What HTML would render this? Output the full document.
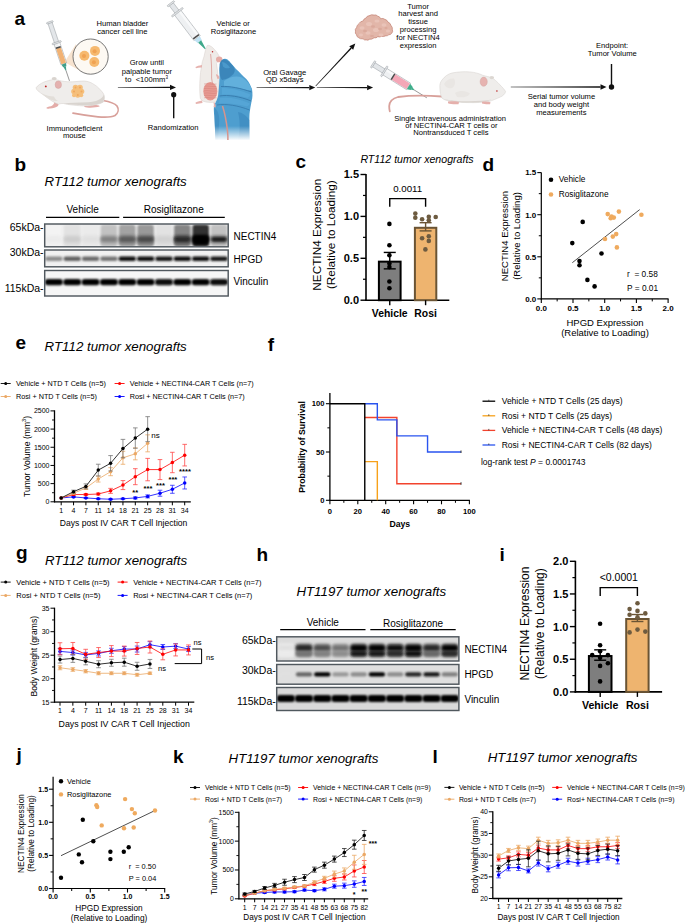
<!DOCTYPE html>
<html><head><meta charset="utf-8"><title>Figure</title>
<style>
html,body{margin:0;padding:0;background:#fff;}
body{width:685px;height:924px;overflow:hidden;}
svg{display:block;font-family:"Liberation Sans", sans-serif;}
</style></head>
<body>
<svg width="685" height="924" viewBox="0 0 685 924" font-family='"Liberation Sans", sans-serif'>
<rect width="685" height="924" fill="#fff"/>
<defs><filter id="bl1" x="-50%" y="-100%" width="200%" height="300%"><feGaussianBlur stdDeviation="0.9"/></filter><filter id="bl2" x="-50%" y="-100%" width="200%" height="300%"><feGaussianBlur stdDeviation="1.4"/></filter><linearGradient id="fadeB" x1="0" x2="0" y1="0" y2="1"><stop offset="0" stop-color="#fff" stop-opacity="0"/><stop offset="1" stop-color="#fff" stop-opacity="1"/></linearGradient></defs>
<text x="14.50" y="25.00" font-size="19" font-weight="bold">a</text>
<text x="122.40" y="26.00" font-size="7.6" text-anchor="middle">Human bladder</text>
<text x="122.40" y="33.70" font-size="7.6" text-anchor="middle">cancer cell line</text>
<text x="146.80" y="65.40" font-size="7.6" text-anchor="middle">Grow until</text>
<text x="146.90" y="73.70" font-size="7.6" text-anchor="middle">palpable tumor</text>
<text x="146.50" y="81.50" font-size="7.6" text-anchor="middle">to&#160; &lt;100mm<tspan font-size="4.5" dy="-3">3</tspan></text>
<text x="74.40" y="131.00" font-size="7.6" text-anchor="middle">Immunodeficient</text>
<text x="74.40" y="138.40" font-size="7.6" text-anchor="middle">mouse</text>
<text x="173.20" y="130.40" font-size="7.6" text-anchor="middle">Randomization</text>
<text x="233.20" y="25.70" font-size="7.6" text-anchor="middle">Vehicle or</text>
<text x="233.50" y="33.70" font-size="7.6" text-anchor="middle">Rosiglitazone</text>
<text x="284.70" y="74.50" font-size="7.6" text-anchor="middle">Oral Gavage</text>
<text x="284.70" y="82.20" font-size="7.6" text-anchor="middle">QD x5days</text>
<text x="418.10" y="8.50" font-size="7.6" text-anchor="middle">Tumor</text>
<text x="418.10" y="16.40" font-size="7.6" text-anchor="middle">harvest and</text>
<text x="418.10" y="24.30" font-size="7.6" text-anchor="middle">tissue</text>
<text x="418.10" y="32.20" font-size="7.6" text-anchor="middle">processing</text>
<text x="418.10" y="40.10" font-size="7.6" text-anchor="middle">for NECTIN4</text>
<text x="418.10" y="48.00" font-size="7.6" text-anchor="middle">expression</text>
<text x="450.10" y="121.20" font-size="7.6" text-anchor="middle">Single intravenous administration</text>
<text x="451.40" y="128.20" font-size="7.6" text-anchor="middle">of NECTIN4-CAR T cells or</text>
<text x="450.90" y="135.40" font-size="7.6" text-anchor="middle">Nontransduced T cells</text>
<text x="612.10" y="48.10" font-size="7.6" text-anchor="middle">Endpoint:</text>
<text x="612.30" y="55.60" font-size="7.6" text-anchor="middle">Tumor Volume</text>
<text x="561.40" y="99.10" font-size="7.6" text-anchor="middle">Serial tumor volume</text>
<text x="561.40" y="107.20" font-size="7.6" text-anchor="middle">and body weight</text>
<text x="561.40" y="114.80" font-size="7.6" text-anchor="middle">measurements</text>
<polygon points="117.90,87.65 170.00,88.10 170.00,86.70 117.90,87.15" fill="#111"/>
<polygon points="176.00,87.40 170.00,90.10 170.00,84.70" fill="#111"/>
<polygon points="256.60,87.85 309.30,88.30 309.30,86.90 256.60,87.35" fill="#111"/>
<polygon points="315.30,87.60 309.30,90.30 309.30,84.90" fill="#111"/>
<polygon points="316.80,87.85 367.10,88.30 367.10,86.90 316.80,87.35" fill="#111"/>
<polygon points="373.10,87.60 367.10,90.30 367.10,84.90" fill="#111"/>
<polygon points="315.88,86.17 351.72,48.46 350.69,47.51 315.52,85.83" fill="#111"/>
<polygon points="355.30,43.60 353.18,49.83 349.23,46.14" fill="#111"/>
<polygon points="510.80,87.25 600.50,87.70 600.50,86.30 510.80,86.75" fill="#111"/>
<polygon points="606.50,87.00 600.50,89.70 600.50,84.30" fill="#111"/>
<line x1="173.70" y1="94.70" x2="173.70" y2="118.30" stroke="#111" stroke-width="1.4"/>
<circle cx="173.70" cy="94.70" r="2.6" fill="#111"/>
<line x1="611.50" y1="64.00" x2="611.50" y2="87.00" stroke="#111" stroke-width="1.4"/>
<circle cx="611.50" cy="87.00" r="2.7" fill="#111"/>
<g>
<polygon points="64.5,62 76,44 82,72" fill="#f7e3cf"/>
<circle cx="90.6" cy="56.6" r="17.6" fill="#fdf9f3" stroke="#555" stroke-width="0.8"/>
<circle cx="84.4" cy="55.8" r="5.0" fill="#f6b96f"/>
<circle cx="84.0" cy="56.099999999999994" r="2.0" fill="#f0a252"/>
<circle cx="95.0" cy="50.9" r="5.0" fill="#f6b96f"/>
<circle cx="94.6" cy="51.199999999999996" r="2.0" fill="#f0a252"/>
<circle cx="94.3" cy="62.0" r="5.0" fill="#f6b96f"/>
<circle cx="93.89999999999999" cy="62.3" r="2.0" fill="#f0a252"/>
</g>
<g transform="translate(49.80,22.20) rotate(71.45)">
<rect x="0.5" y="-2.20" width="21.67" height="4.40" fill="#e3e6e9" stroke="#8f959a" stroke-width="0.45"/>
<rect x="-0.6" y="-3.40" width="1.6" height="6.80" rx="0.7" fill="#e6e8ea" stroke="#8f959a" stroke-width="0.45"/>
<rect x="21.67" y="-3.00" width="22.29" height="6.00" fill="#eef0f2" stroke="#8f959a" stroke-width="0.45"/>
<rect x="22.17" y="-2.40" width="21.29" height="1.68" fill="#f8f9fa"/>
<rect x="27.24" y="-2.50" width="16.32" height="5.00" fill="#f1b274"/>
<rect x="25.94" y="-2.60" width="1.5" height="5.20" fill="#4a4a4a"/>
<rect x="20.87" y="-4.75" width="1.6" height="9.50" rx="0.7" fill="#e6e8ea" stroke="#8f959a" stroke-width="0.45"/>
<polygon points="43.96,-2.40 47.06,-1.70 47.06,1.70 43.96,2.40" fill="#3f9f8a"/>
<polygon points="46.76,-1.27 50.77,-0.45 50.77,0.45 46.76,1.27" fill="#3f9f8a"/>
<line x1="50.77" y1="0" x2="61.92" y2="0" stroke="#555" stroke-width="0.55"/>
</g>
<path d="M103,100.5 C109,101.5 114.5,103 117,106 C119,109 118.5,113 115,115.5 C111,117.5 105,117.4 98,116.8 C90,116 82,114.8 73,113.1" stroke="#d8a09a" stroke-width="1.7" fill="none" stroke-linecap="round"/>
<path d="M57,101 C58.5,103 59,104.5 58,106 C56,107.5 53,108.2 50,108.6 C48,108.8 46.5,108.6 46.3,108 C46.5,107.2 48.5,106.8 51,106.3 C53,105.5 54,104 54.5,102 Z" fill="#e4aca8"/>
<path d="M88,103 C90,104.5 93,105 96,105 C98.5,105.2 100,105.8 99.5,106.6 C97,107.5 93,107.8 89,107.7 C86,107.6 84.5,107.2 84.2,106.5 C84.5,105.5 86,104.5 88,103 Z" fill="#e4aca8"/>
<path d="M36.1,87.8 C37.5,85.5 40.9,83.4 44,82 C47,80.8 50,80.2 53,79.5 C55.5,79 58.5,80.5 61.8,81 C66,81.8 70,81.9 73,81.8 C77,81.6 81,80.9 84.2,81 C88,81.3 90.5,82.3 92.3,83.4 C96,85.5 98.5,87.5 100.3,89.8 C102.5,92 104,94 104.3,96.3 C104.6,98.5 104.3,100.5 103.5,101.9 C101.5,103.2 99.5,104 97.1,104.3 C94,105.2 90.5,105.9 87.4,105.9 C82,106 77,105.6 73,105.1 C69,104.7 66,104.2 63.4,103.5 C61,103.3 60,103.9 58.5,104.3 C56,103.5 54,102.4 52.1,101.1 C49,99.2 46.5,97.3 44.1,95.4 C41.5,93.6 39.5,92.2 37.7,90.6 C36.8,89.8 36.2,88.8 36.1,87.8 Z" fill="#efedeb" stroke="#d2cdc8" stroke-width="0.5"/>
<path d="M63,103.4 C70,104.4 80,105.2 90,105.3 C96,104.8 101,103.6 103.3,101.8 C104.3,99.5 104.5,97 104,94.5 C102,99.5 96,101.8 88,102.3 C78,102.8 70,102.8 63,103.4 Z" fill="#d9d4cf"/>
<path d="M42,93.5 C46,95.5 50,96.3 54,96.5 C55,98.5 56,100 58,101 C54,101.6 50,99.5 44.1,95.4 Z" fill="#e2ded9"/>
<ellipse cx="54.2" cy="78.6" rx="2.5" ry="1.6" fill="#d9d4cf"/>
<ellipse cx="58.3" cy="84.7" rx="3.2" ry="3.8" fill="#e4b1af" stroke="#cc9a98" stroke-width="0.4"/>
<circle cx="45.80" cy="86.40" r="0.95" fill="#b22"/>
<circle cx="75.50" cy="87.50" r="2.8" fill="#f5bf7b"/>
<circle cx="80.00" cy="87.50" r="2.8" fill="#f5bf7b"/>
<circle cx="74.00" cy="91.50" r="2.8" fill="#f5bf7b"/>
<circle cx="81.50" cy="91.50" r="2.8" fill="#f5bf7b"/>
<circle cx="77.80" cy="95.00" r="2.8" fill="#f5bf7b"/>
<circle cx="77.80" cy="90.80" r="2.6" fill="#f5bf7b"/>
<circle cx="74.00" cy="95.20" r="2.0" fill="#f5bf7b"/>
<circle cx="81.20" cy="95.20" r="2.0" fill="#f5bf7b"/>
<circle cx="75.50" cy="87.50" r="1.0" fill="#efa75d"/>
<circle cx="80.00" cy="87.50" r="1.0" fill="#efa75d"/>
<circle cx="74.00" cy="91.50" r="1.0" fill="#efa75d"/>
<circle cx="81.50" cy="91.50" r="1.0" fill="#efa75d"/>
<circle cx="77.80" cy="95.00" r="1.0" fill="#efa75d"/>
<g transform="translate(170.80,3.60) rotate(52.69)">
<rect x="0.5" y="-2.50" width="10.85" height="5.00" fill="#e3e6e9" stroke="#8f959a" stroke-width="0.45"/>
<rect x="-0.6" y="-4.25" width="1.6" height="8.50" rx="0.7" fill="#e6e8ea" stroke="#8f959a" stroke-width="0.45"/>
<rect x="10.85" y="-4.00" width="32.54" height="8.00" fill="#eef0f2" stroke="#8f959a" stroke-width="0.45"/>
<rect x="11.35" y="-3.40" width="31.54" height="2.24" fill="#f8f9fa"/>
<rect x="40.94" y="-3.60" width="1.5" height="7.20" fill="#4a4a4a"/>
<rect x="10.05" y="-7.00" width="1.6" height="14.00" rx="0.7" fill="#e6e8ea" stroke="#8f959a" stroke-width="0.45"/>
<polygon points="43.38,-3.40 47.95,-2.50 47.95,2.50 43.38,3.40" fill="#bfe2f3"/>
<polygon points="47.65,-1.88 57.08,-0.45 57.08,0.45 47.65,1.88" fill="#3fa88a"/>
</g>
<path d="M207.3,45.4 C209,45 211,46 213,48 C215,50 217,52 218.5,55 C220,57 219,61 216.5,63.3 C217.5,70 218.3,78 218.6,86 C219,93 219.5,98 218.7,100.6 C216,102.5 212,102.6 208,102.2 C205,102 202,101.5 200.3,98.4 C199.6,92 199.5,85 200.1,78 C200.6,71 201.5,63 204.1,56.2 C205,52 205.8,48 207.3,45.4 Z" fill="#efebe8" stroke="#d6cfca" stroke-width="0.5"/>
<ellipse cx="210.3" cy="91.2" rx="7" ry="9.2" fill="#e79a92"/>
<path d="M204,84.0 C208,83.0 212,85.0 216.5,84.0" stroke="#d27c74" stroke-width="0.45" fill="none"/>
<path d="M204,86.3 C208,85.3 212,87.3 216.5,86.3" stroke="#d27c74" stroke-width="0.45" fill="none"/>
<path d="M204,88.6 C208,87.6 212,89.6 216.5,88.6" stroke="#d27c74" stroke-width="0.45" fill="none"/>
<path d="M204,90.9 C208,89.9 212,91.9 216.5,90.9" stroke="#d27c74" stroke-width="0.45" fill="none"/>
<path d="M204,93.2 C208,92.2 212,94.2 216.5,93.2" stroke="#d27c74" stroke-width="0.45" fill="none"/>
<path d="M204,95.5 C208,94.5 212,96.5 216.5,95.5" stroke="#d27c74" stroke-width="0.45" fill="none"/>
<path d="M204,97.8 C208,96.8 212,98.8 216.5,97.8" stroke="#d27c74" stroke-width="0.45" fill="none"/>
<path d="M210.6,54 C211.5,62 211.8,70 211.6,78 L212.5,84" stroke="#d98e88" stroke-width="0.7" fill="none"/>
<ellipse cx="219.2" cy="59.4" rx="3.2" ry="2.8" fill="#e6aca6"/>
<circle cx="212.50" cy="51.80" r="0.75" fill="#b22"/>
<path d="M202,65 C199,65.5 197,66 195.4,67.1 L196,68.3 C198,67.6 200,67.5 202,67.6 Z" fill="#e6b2ae"/>
<path d="M202,100.5 C199,101.2 197,101.8 195.4,102.8 L196,104 C198,103.5 200,103.2 202.5,103 Z" fill="#e6b2ae"/>
<path d="M222.5,59.5 C224,58.6 226,58.7 227.5,59.5 C230,62 233.3,66 236,69 C239.8,72.5 243,76 246.3,79 C249,82 250.6,85.5 252,89 C252.8,94 252.5,98 251.7,100.6 C251,105 250,109.3 249.5,114 C249.2,120 249.3,128 249.5,140 L215.4,140 C215.2,132 214.8,124 214.3,115.8 C213.8,110 213.6,107 214.5,104.5 C216,102 217.5,99 218.2,95 C219,88 219.5,80 219.5,72 C219.3,67 220.5,62 222.5,59.5 Z" fill="#4e9ecf"/>
<path d="M219.6,64 C220.5,61 222,59.6 224,59.3 C227,59.5 230,62.5 233,66 C235,68.5 235.5,71 233.5,74 C230.5,77.5 226,79.5 222,80 C220.3,78 219.5,74 219.5,70 Z" fill="#3b86ba"/>
<path d="M222,62 C225,62 228,64.5 230,67.5 C228,69 225,68.5 223,66.5 Z" fill="#4f9ed0" opacity="0.8"/>
<path d="M224,81 C229,77 236,75 242,77.5 C247,80.5 250.5,85 251.8,90 C248,91 243,89.5 238,88 C233,87 228,86.5 224,86 Z" fill="#62b0dc"/>
<path d="M222,88 C230,88 240,90 250.5,94.5 C250,97 248,98 246,97.5 C238,95 230,94 222,94.5 Z" fill="#58a8d8" opacity="0.8"/>
<path d="M220,98 C230,97 240,99 249.8,103.5 C249,106 247.5,106.5 245,106 C236,104 228,103 219,103.5 Z" fill="#58a8d8" opacity="0.7"/>
<path d="M221,86.5 C230,86 240,88 251.5,92" stroke="#3579ab" stroke-width="0.9" fill="none"/>
<path d="M219.5,96 C228,94.5 240,96.5 251.2,101" stroke="#3579ab" stroke-width="0.9" fill="none"/>
<path d="M217,105 C226,103.5 238,105.5 249.6,110" stroke="#3579ab" stroke-width="0.8" fill="none"/>
<path d="M238,112 C243,113 247,116 249.3,120 L249.5,140 L238,140 C240,132 240.5,122 238,112 Z" fill="#3f8bbf" opacity="0.8"/>
<path d="M214.5,108 C218,110 220,116 219,124 L218,140 L215.4,140 C215,130 214.5,118 214.5,108 Z" fill="#3f8bbf" opacity="0.7"/>
<rect x="212" y="126" width="42" height="14.5" fill="url(#fadeB)"/>
<path d="M216.5,74 C218,75 219.5,76 219.5,78.5 L217.5,79 C217,77.5 216.5,76 216,75 Z" fill="#e6b2ae"/>
<path d="M214,102 C215.5,103.5 216,105 215.5,107.5 L213.5,107 C214,105.5 214,104 213.5,103 Z" fill="#e6b2ae"/>
<path d="M222.5,106 C224.5,112 226.5,122 227.5,131 C227.9,135 228,138 227.9,140" stroke="#d8948c" stroke-width="1.5" fill="none"/>
<path d="M355.47,31.17 Q354.72,29.39 356.57,27.52 Q356.76,25.06 359.49,23.14 Q360.17,21.43 363.14,20.95 Q363.68,18.57 366.06,18.03 Q366.91,15.79 368.98,15.84 Q371.31,14.19 374.09,15.11 Q376.12,14.37 377.74,16.20 Q379.76,16.31 380.66,18.76 Q383.35,17.97 384.31,19.12 Q387.22,19.87 387.96,22.04 Q390.65,23.29 390.88,25.33 Q392.90,27.43 392.34,29.71 Q393.26,31.73 391.61,33.36 Q391.38,34.50 388.69,34.82 Q388.02,35.96 385.04,35.91 Q384.23,36.90 381.39,36.28 Q380.34,37.50 377.74,36.64 Q376.23,38.45 374.09,37.74 Q371.65,39.74 369.71,39.20 Q367.66,40.72 366.79,39.93 Q364.14,40.38 363.14,38.83 Q359.91,39.06 358.76,37.74 Q356.49,36.83 356.57,34.82 Q354.76,33.30 355.47,31.17 Z" fill="#e2b6a9" stroke="#c6897b" stroke-width="0.8"/>
<ellipse cx="362" cy="28" rx="2.6" ry="1.8" fill="#e9c3b8"/>
<ellipse cx="369" cy="24" rx="3" ry="2" fill="#e9c3b8"/>
<ellipse cx="377" cy="21" rx="2.6" ry="1.6" fill="#e9c3b8"/>
<ellipse cx="384" cy="25" rx="2.5" ry="1.8" fill="#e9c3b8"/>
<ellipse cx="388" cy="31" rx="2.2" ry="1.6" fill="#e9c3b8"/>
<ellipse cx="376" cy="30" rx="3" ry="2" fill="#e9c3b8"/>
<ellipse cx="368" cy="33" rx="2.6" ry="1.8" fill="#e9c3b8"/>
<ellipse cx="381" cy="35" rx="2.4" ry="1.4" fill="#e9c3b8"/>
<ellipse cx="361" cy="35" rx="2" ry="1.4" fill="#e9c3b8"/>
<ellipse cx="365" cy="31" rx="2" ry="1.2" fill="#d6a093" opacity="0.6"/>
<ellipse cx="373" cy="26.5" rx="2" ry="1.2" fill="#d6a093" opacity="0.6"/>
<ellipse cx="380" cy="29" rx="2" ry="1.2" fill="#d6a093" opacity="0.6"/>
<ellipse cx="372" cy="36" rx="2" ry="1.1" fill="#d6a093" opacity="0.6"/>
<ellipse cx="386" cy="28" rx="1.6" ry="1.1" fill="#d6a093" opacity="0.6"/>
<g transform="translate(373.00,64.30) rotate(31.91)">
<rect x="0.5" y="-2.40" width="13.31" height="4.80" fill="#e3e6e9" stroke="#8f959a" stroke-width="0.45"/>
<rect x="-0.6" y="-4.00" width="1.6" height="8.00" rx="0.7" fill="#e6e8ea" stroke="#8f959a" stroke-width="0.45"/>
<rect x="13.31" y="-3.80" width="28.52" height="7.60" fill="#eef0f2" stroke="#8f959a" stroke-width="0.45"/>
<rect x="13.81" y="-3.20" width="27.52" height="2.13" fill="#f8f9fa"/>
<rect x="24.08" y="-3.30" width="17.35" height="6.60" fill="#f3a7b7"/>
<rect x="22.78" y="-3.40" width="1.5" height="6.80" fill="#4a4a4a"/>
<rect x="12.51" y="-6.00" width="1.6" height="12.00" rx="0.7" fill="#e6e8ea" stroke="#8f959a" stroke-width="0.45"/>
<polygon points="41.83,-3.20 45.63,-1.80 45.63,1.80 41.83,3.20" fill="#3fae8b"/>
<polygon points="45.33,-1.35 48.17,-0.45 48.17,0.45 45.33,1.35" fill="#3fae8b"/>
<line x1="48.17" y1="0" x2="63.38" y2="0" stroke="#555" stroke-width="0.55"/>
</g>
<path d="M442,96.5 C430,95.5 412,95 398,97 C392,98.5 389.5,102 389.2,106 C389.2,108 389.4,110 389.8,111.3" stroke="#d8a09a" stroke-width="1.8" fill="none" stroke-linecap="round"/>
<path d="M439.9,88 C439.5,84 440.5,82 442,80 C445,76 448,74 452,73 C458,71.8 464,71.5 469.5,71.9 C475,72.3 479,73.5 482.6,75.2 C486,76.3 489,76.8 491.4,77.4 C494,79 497,81.5 500.1,85 C502.5,87.5 504.5,89.5 505.6,91.6 C505,94 503,96 500.1,97.1 C496,99 492,100.5 489.2,101.5 C483,102.4 476,102.8 469.5,102.6 C463,102.5 457,102.2 452,101.5 C447,100.8 444,99.8 442.1,98.2 C440.6,95.5 440,92 439.9,88 Z" fill="#efedeb" stroke="#d3cecb" stroke-width="0.5"/>
<path d="M442.1,98.2 C447,100 455,101 465,101.2 C475,101.4 485,100.8 492,99.6 C488,101.2 482,102.5 470,102.6 C460,102.5 450,101.6 442.1,98.2 Z" fill="#dad5d0"/>
<path d="M444,84 C446,80 450,78 454,78.5 C456,82 455,86 452,88 C449,89 446,88 444,84 Z" fill="#e9e6e3"/>
<path d="M455,93 C460,90 466,90.5 470,93.5 C468,97 462,98 457,97 Z" fill="#e9e6e3"/>
<ellipse cx="491.8" cy="77.6" rx="2.3" ry="1.6" fill="#dcd7d2"/>
<ellipse cx="483.7" cy="81.7" rx="3.6" ry="4.6" fill="#e6b3b0" stroke="#cf9f9c" stroke-width="0.4"/>
<circle cx="496.90" cy="91.00" r="0.8" fill="#b22"/>
<path d="M448,101.5 C452,101 457,101 459,102 L458.5,104.2 C454,104.5 450,104 448,103.2 Z" fill="#e5b0ac"/>
<path d="M482,101.8 C485,101.5 488,101.5 490.5,102.3 L490,104.3 C487,104.5 484,104.3 482,103.6 Z" fill="#e5b0ac"/>
<text x="14.50" y="170.70" font-size="19" font-weight="bold">b</text>
<text x="44.60" y="185.90" font-size="13.3" font-style="italic">RT112 tumor xenografts</text>
<text x="82.60" y="213.20" font-size="10" text-anchor="middle">Vehicle</text>
<text x="173.70" y="213.40" font-size="10" text-anchor="middle">Rosiglitazone</text>
<line x1="46.00" y1="217.30" x2="119.30" y2="217.30" stroke="#000" stroke-width="1.2"/>
<line x1="123.10" y1="217.30" x2="224.80" y2="217.30" stroke="#000" stroke-width="1.2"/>
<text x="43.60" y="230.90" font-size="10.5" text-anchor="end">65kDa-</text>
<text x="43.60" y="255.80" font-size="10.5" text-anchor="end">30kDa-</text>
<text x="43.60" y="292.00" font-size="10.5" text-anchor="end">115kDa-</text>
<text x="233.50" y="240.30" font-size="10">NECTIN4</text>
<text x="233.50" y="262.50" font-size="10">HPGD</text>
<text x="233.50" y="285.00" font-size="10">Vinculin</text>
<rect x="44.70" y="224.00" width="183.50" height="22.80" fill="#eeeeee"/>
<clipPath id="clip44_0"><rect x="44.70" y="224.00" width="183.50" height="22.80"/></clipPath>
<g clip-path="url(#clip44_0)">
<rect x="45.62" y="224.50" width="16.52" height="22.00" rx="3.00" fill="rgb(243,243,243)" filter="url(#bl1)"/>
<rect x="63.97" y="224.50" width="16.52" height="22.00" rx="3.00" fill="rgb(226,226,226)" filter="url(#bl1)"/>
<rect x="82.32" y="224.50" width="16.52" height="22.00" rx="3.00" fill="rgb(235,235,235)" filter="url(#bl1)"/>
<rect x="100.67" y="224.50" width="16.52" height="22.00" rx="3.00" fill="rgb(194,194,194)" filter="url(#bl1)"/>
<rect x="119.02" y="224.50" width="16.52" height="22.00" rx="3.00" fill="rgb(163,163,163)" filter="url(#bl1)"/>
<rect x="137.37" y="224.50" width="16.52" height="22.00" rx="3.00" fill="rgb(153,153,153)" filter="url(#bl1)"/>
<rect x="155.72" y="224.50" width="16.52" height="22.00" rx="3.00" fill="rgb(226,226,226)" filter="url(#bl1)"/>
<rect x="174.07" y="224.50" width="16.52" height="22.00" rx="3.00" fill="rgb(133,133,133)" filter="url(#bl1)"/>
<rect x="192.42" y="224.50" width="16.52" height="22.00" rx="3.00" fill="rgb(51,51,51)" filter="url(#bl1)"/>
<rect x="210.77" y="224.50" width="16.52" height="22.00" rx="3.00" fill="rgb(194,194,194)" filter="url(#bl1)"/>
<rect x="45.62" y="235.00" width="16.52" height="10.00" rx="3.00" fill="rgb(240,240,240)" filter="url(#bl2)"/>
<rect x="63.97" y="235.00" width="16.52" height="10.00" rx="3.00" fill="rgb(219,219,219)" filter="url(#bl2)"/>
<rect x="82.32" y="235.00" width="16.52" height="10.00" rx="3.00" fill="rgb(230,230,230)" filter="url(#bl2)"/>
<rect x="100.67" y="235.00" width="16.52" height="10.00" rx="3.00" fill="rgb(178,178,178)" filter="url(#bl2)"/>
<rect x="119.02" y="235.00" width="16.52" height="10.00" rx="3.00" fill="rgb(140,140,140)" filter="url(#bl2)"/>
<rect x="137.37" y="235.00" width="16.52" height="10.00" rx="3.00" fill="rgb(128,128,128)" filter="url(#bl2)"/>
<rect x="155.72" y="235.00" width="16.52" height="10.00" rx="3.00" fill="rgb(219,219,219)" filter="url(#bl2)"/>
<rect x="174.07" y="235.00" width="16.52" height="10.00" rx="3.00" fill="rgb(102,102,102)" filter="url(#bl2)"/>
<rect x="192.42" y="235.00" width="16.52" height="10.00" rx="3.00" fill="rgb(0,0,0)" filter="url(#bl2)"/>
<rect x="210.77" y="235.00" width="16.52" height="10.00" rx="3.00" fill="rgb(178,178,178)" filter="url(#bl2)"/>
<rect x="45.62" y="236.55" width="16.52" height="5.50" rx="2.75" fill="rgb(235,235,235)" filter="url(#bl2)"/>
<rect x="63.97" y="236.55" width="16.52" height="5.50" rx="2.75" fill="rgb(204,204,204)" filter="url(#bl2)"/>
<rect x="82.32" y="236.55" width="16.52" height="5.50" rx="2.75" fill="rgb(224,224,224)" filter="url(#bl2)"/>
<rect x="100.67" y="236.55" width="16.52" height="5.50" rx="2.75" fill="rgb(128,128,128)" filter="url(#bl2)"/>
<rect x="119.02" y="236.55" width="16.52" height="5.50" rx="2.75" fill="rgb(89,89,89)" filter="url(#bl2)"/>
<rect x="137.37" y="236.55" width="16.52" height="5.50" rx="2.75" fill="rgb(71,71,71)" filter="url(#bl2)"/>
<rect x="155.72" y="236.55" width="16.52" height="5.50" rx="2.75" fill="rgb(209,209,209)" filter="url(#bl2)"/>
<rect x="174.07" y="236.55" width="16.52" height="5.50" rx="2.75" fill="rgb(38,38,38)" filter="url(#bl2)"/>
<rect x="192.42" y="236.55" width="16.52" height="5.50" rx="2.75" fill="rgb(0,0,0)" filter="url(#bl2)"/>
<rect x="210.77" y="236.55" width="16.52" height="5.50" rx="2.75" fill="rgb(25,25,25)" filter="url(#bl2)"/>
</g>
<rect x="44.70" y="224.00" width="183.50" height="22.80" fill="none" stroke="#50585e" stroke-width="1.45"/>
<rect x="44.70" y="250.00" width="183.50" height="16.80" fill="#f1f1f1"/>
<clipPath id="clip44_1"><rect x="44.70" y="250.00" width="183.50" height="16.80"/></clipPath>
<g clip-path="url(#clip44_1)">
<rect x="45.16" y="256.50" width="17.43" height="4.40" rx="2.20" fill="rgb(140,140,140)" filter="url(#bl1)"/>
<rect x="63.51" y="256.50" width="17.43" height="4.40" rx="2.20" fill="rgb(97,97,97)" filter="url(#bl1)"/>
<rect x="81.86" y="256.50" width="17.43" height="4.40" rx="2.20" fill="rgb(107,107,107)" filter="url(#bl1)"/>
<rect x="100.21" y="256.50" width="17.43" height="4.40" rx="2.20" fill="rgb(115,115,115)" filter="url(#bl1)"/>
<rect x="118.56" y="256.50" width="17.43" height="4.40" rx="2.20" fill="rgb(13,13,13)" filter="url(#bl1)"/>
<rect x="136.91" y="256.50" width="17.43" height="4.40" rx="2.20" fill="rgb(13,13,13)" filter="url(#bl1)"/>
<rect x="155.26" y="256.50" width="17.43" height="4.40" rx="2.20" fill="rgb(20,20,20)" filter="url(#bl1)"/>
<rect x="173.61" y="256.50" width="17.43" height="4.40" rx="2.20" fill="rgb(13,13,13)" filter="url(#bl1)"/>
<rect x="191.96" y="256.50" width="17.43" height="4.40" rx="2.20" fill="rgb(13,13,13)" filter="url(#bl1)"/>
<rect x="210.31" y="256.50" width="17.43" height="4.40" rx="2.20" fill="rgb(18,18,18)" filter="url(#bl1)"/>
</g>
<rect x="44.70" y="250.00" width="183.50" height="16.80" fill="none" stroke="#50585e" stroke-width="1.45"/>
<rect x="44.70" y="270.50" width="183.50" height="25.50" fill="#f6f6f6"/>
<clipPath id="clip44_2"><rect x="44.70" y="270.50" width="183.50" height="25.50"/></clipPath>
<g clip-path="url(#clip44_2)">
<rect x="44.88" y="279.10" width="17.98" height="6.20" rx="3.00" fill="rgb(0,0,0)" filter="url(#bl1)"/>
<rect x="63.23" y="279.10" width="17.98" height="6.20" rx="3.00" fill="rgb(0,0,0)" filter="url(#bl1)"/>
<rect x="81.58" y="279.10" width="17.98" height="6.20" rx="3.00" fill="rgb(5,5,5)" filter="url(#bl1)"/>
<rect x="99.93" y="279.10" width="17.98" height="6.20" rx="3.00" fill="rgb(5,5,5)" filter="url(#bl1)"/>
<rect x="118.28" y="279.10" width="17.98" height="6.20" rx="3.00" fill="rgb(5,5,5)" filter="url(#bl1)"/>
<rect x="136.63" y="279.10" width="17.98" height="6.20" rx="3.00" fill="rgb(0,0,0)" filter="url(#bl1)"/>
<rect x="154.98" y="279.10" width="17.98" height="6.20" rx="3.00" fill="rgb(8,8,8)" filter="url(#bl1)"/>
<rect x="173.33" y="279.10" width="17.98" height="6.20" rx="3.00" fill="rgb(0,0,0)" filter="url(#bl1)"/>
<rect x="191.68" y="279.10" width="17.98" height="6.20" rx="3.00" fill="rgb(0,0,0)" filter="url(#bl1)"/>
<rect x="210.03" y="279.10" width="17.98" height="6.20" rx="3.00" fill="rgb(8,8,8)" filter="url(#bl1)"/>
</g>
<rect x="44.70" y="270.50" width="183.50" height="25.50" fill="none" stroke="#50585e" stroke-width="1.45"/>
<text x="295.50" y="168.40" font-size="19" font-weight="bold">c</text>
<text x="360.40" y="162.70" font-size="10.6" font-style="italic">RT112 tumor xenografts</text>
<line x1="366.00" y1="174.00" x2="366.00" y2="301.00" stroke="#000" stroke-width="1.6"/>
<line x1="365.20" y1="300.20" x2="449.30" y2="300.20" stroke="#000" stroke-width="1.6"/>
<line x1="360.50" y1="300.20" x2="366.00" y2="300.20" stroke="#000" stroke-width="1.4"/>
<text x="359.00" y="304.16" font-size="11" font-weight="bold" text-anchor="end">0.0</text>
<line x1="363.00" y1="279.25" x2="366.00" y2="279.25" stroke="#000" stroke-width="1.2"/>
<line x1="360.50" y1="258.30" x2="366.00" y2="258.30" stroke="#000" stroke-width="1.4"/>
<text x="359.00" y="262.26" font-size="11" font-weight="bold" text-anchor="end">0.5</text>
<line x1="363.00" y1="237.35" x2="366.00" y2="237.35" stroke="#000" stroke-width="1.2"/>
<line x1="360.50" y1="216.40" x2="366.00" y2="216.40" stroke="#000" stroke-width="1.4"/>
<text x="359.00" y="220.36" font-size="11" font-weight="bold" text-anchor="end">1.0</text>
<line x1="363.00" y1="195.45" x2="366.00" y2="195.45" stroke="#000" stroke-width="1.2"/>
<line x1="360.50" y1="174.50" x2="366.00" y2="174.50" stroke="#000" stroke-width="1.4"/>
<text x="359.00" y="178.46" font-size="11" font-weight="bold" text-anchor="end">1.5</text>
<rect x="378.90" y="261.65" width="21.70" height="38.55" fill="#7e7e7e" stroke="#000" stroke-width="2"/>
<rect x="414.90" y="227.79" width="21.40" height="72.41" fill="#eeb46f" stroke="#6a5434" stroke-width="2"/>
<line x1="389.75" y1="252.43" x2="389.75" y2="268.86" stroke="#000" stroke-width="1.4"/>
<line x1="383.75" y1="252.43" x2="395.75" y2="252.43" stroke="#000" stroke-width="1.4"/>
<line x1="383.75" y1="268.86" x2="395.75" y2="268.86" stroke="#000" stroke-width="1.4"/>
<line x1="425.60" y1="222.69" x2="425.60" y2="230.90" stroke="#6a5434" stroke-width="1.4"/>
<line x1="419.60" y1="222.69" x2="431.60" y2="222.69" stroke="#6a5434" stroke-width="1.4"/>
<line x1="419.60" y1="230.90" x2="431.60" y2="230.90" stroke="#6a5434" stroke-width="1.4"/>
<circle cx="389.40" cy="223.90" r="2.3" fill="#000"/>
<circle cx="389.40" cy="245.30" r="2.3" fill="#000"/>
<circle cx="389.40" cy="255.30" r="2.3" fill="#000"/>
<circle cx="389.40" cy="263.50" r="2.3" fill="#000"/>
<circle cx="389.40" cy="267.10" r="2.3" fill="#000"/>
<circle cx="389.40" cy="281.50" r="2.3" fill="#000"/>
<circle cx="389.40" cy="288.20" r="2.3" fill="#000"/>
<circle cx="415.30" cy="213.60" r="2.3" fill="#6d5b40"/>
<circle cx="415.30" cy="217.70" r="2.3" fill="#6d5b40"/>
<circle cx="422.10" cy="219.30" r="2.3" fill="#6d5b40"/>
<circle cx="428.80" cy="216.70" r="2.3" fill="#6d5b40"/>
<circle cx="428.80" cy="220.30" r="2.3" fill="#6d5b40"/>
<circle cx="435.70" cy="217.00" r="2.3" fill="#6d5b40"/>
<circle cx="422.10" cy="238.30" r="2.3" fill="#6d5b40"/>
<circle cx="428.80" cy="236.20" r="2.3" fill="#6d5b40"/>
<circle cx="428.80" cy="240.90" r="2.3" fill="#6d5b40"/>
<circle cx="425.40" cy="249.40" r="2.3" fill="#6d5b40"/>
<line x1="389.75" y1="300.20" x2="389.75" y2="305.20" stroke="#000" stroke-width="1.4"/>
<line x1="425.60" y1="300.20" x2="425.60" y2="305.20" stroke="#000" stroke-width="1.4"/>
<polyline points="389.75,206.80 389.75,198.60 425.60,198.60 425.60,206.80" stroke="#000" stroke-width="1.4" fill="none"/>
<text x="407.68" y="192.40" font-size="9.7" text-anchor="middle">0.0011</text>
<text x="389.75" y="317.40" font-size="10.4" font-weight="bold" text-anchor="middle">Vehicle</text>
<text x="425.60" y="317.40" font-size="10.4" font-weight="bold" text-anchor="middle">Rosi</text>
<text transform="translate(320.90,234.70) rotate(-90)" font-size="11.8" text-anchor="middle" fill="#000">NECTIN4 Expression</text>
<text transform="translate(334.80,234.70) rotate(-90)" font-size="11.8" text-anchor="middle" fill="#000">(Relative to Loading)</text>
<text x="482.50" y="170.50" font-size="19" font-weight="bold">d</text>
<line x1="541.30" y1="172.60" x2="541.30" y2="299.40" stroke="#000" stroke-width="1.2"/>
<line x1="540.80" y1="298.90" x2="668.60" y2="298.90" stroke="#000" stroke-width="1.2"/>
<line x1="537.30" y1="298.90" x2="541.30" y2="298.90" stroke="#000" stroke-width="1.1"/>
<text x="536.30" y="301.78" font-size="8" font-weight="bold" text-anchor="end">0.0</text>
<line x1="538.80" y1="277.85" x2="541.30" y2="277.85" stroke="#000" stroke-width="1.0"/>
<line x1="537.30" y1="256.80" x2="541.30" y2="256.80" stroke="#000" stroke-width="1.1"/>
<text x="536.30" y="259.68" font-size="8" font-weight="bold" text-anchor="end">0.5</text>
<line x1="538.80" y1="235.75" x2="541.30" y2="235.75" stroke="#000" stroke-width="1.0"/>
<line x1="537.30" y1="214.70" x2="541.30" y2="214.70" stroke="#000" stroke-width="1.1"/>
<text x="536.30" y="217.58" font-size="8" font-weight="bold" text-anchor="end">1.0</text>
<line x1="538.80" y1="193.65" x2="541.30" y2="193.65" stroke="#000" stroke-width="1.0"/>
<line x1="537.30" y1="172.60" x2="541.30" y2="172.60" stroke="#000" stroke-width="1.1"/>
<text x="536.30" y="175.48" font-size="8" font-weight="bold" text-anchor="end">1.5</text>
<line x1="541.30" y1="298.90" x2="541.30" y2="302.90" stroke="#000" stroke-width="1.1"/>
<text x="541.30" y="310.50" font-size="8" font-weight="bold" text-anchor="middle">0.0</text>
<line x1="557.15" y1="298.90" x2="557.15" y2="301.40" stroke="#000" stroke-width="1.0"/>
<line x1="573.00" y1="298.90" x2="573.00" y2="302.90" stroke="#000" stroke-width="1.1"/>
<text x="573.00" y="310.50" font-size="8" font-weight="bold" text-anchor="middle">0.5</text>
<line x1="588.85" y1="298.90" x2="588.85" y2="301.40" stroke="#000" stroke-width="1.0"/>
<line x1="604.70" y1="298.90" x2="604.70" y2="302.90" stroke="#000" stroke-width="1.1"/>
<text x="604.70" y="310.50" font-size="8" font-weight="bold" text-anchor="middle">1.0</text>
<line x1="620.55" y1="298.90" x2="620.55" y2="301.40" stroke="#000" stroke-width="1.0"/>
<line x1="636.40" y1="298.90" x2="636.40" y2="302.90" stroke="#000" stroke-width="1.1"/>
<text x="636.40" y="310.50" font-size="8" font-weight="bold" text-anchor="middle">1.5</text>
<line x1="652.25" y1="298.90" x2="652.25" y2="301.40" stroke="#000" stroke-width="1.0"/>
<line x1="668.10" y1="298.90" x2="668.10" y2="302.90" stroke="#000" stroke-width="1.1"/>
<text x="668.10" y="310.50" font-size="8" font-weight="bold" text-anchor="middle">2.0</text>
<line x1="572.30" y1="262.70" x2="639.70" y2="209.60" stroke="#222" stroke-width="0.8"/>
<circle cx="582.70" cy="221.90" r="2.3" fill="#000"/>
<circle cx="572.30" cy="243.10" r="2.3" fill="#000"/>
<circle cx="579.50" cy="261.10" r="2.3" fill="#000"/>
<circle cx="579.50" cy="265.20" r="2.3" fill="#000"/>
<circle cx="601.50" cy="253.50" r="2.3" fill="#000"/>
<circle cx="587.40" cy="279.90" r="2.3" fill="#000"/>
<circle cx="594.60" cy="286.40" r="2.3" fill="#000"/>
<circle cx="607.70" cy="214.10" r="2.3" fill="#efaa5e"/>
<circle cx="610.70" cy="218.20" r="2.3" fill="#efaa5e"/>
<circle cx="613.80" cy="217.60" r="2.3" fill="#efaa5e"/>
<circle cx="618.90" cy="211.60" r="2.3" fill="#efaa5e"/>
<circle cx="641.40" cy="214.70" r="2.3" fill="#efaa5e"/>
<circle cx="605.00" cy="239.00" r="2.3" fill="#efaa5e"/>
<circle cx="612.80" cy="236.60" r="2.3" fill="#efaa5e"/>
<circle cx="616.20" cy="234.10" r="2.3" fill="#efaa5e"/>
<circle cx="616.90" cy="247.40" r="2.3" fill="#efaa5e"/>
<circle cx="611.50" cy="216.50" r="2.3" fill="#efaa5e"/>
<text x="627.10" y="277.40" font-size="8.3">r&#160; = 0.58</text>
<text x="627.10" y="291.09" font-size="8.3">P = 0.01</text>
<circle cx="551.00" cy="179.70" r="2.3" fill="#000"/>
<text x="558.70" y="182.30" font-size="8.3">Vehicle</text>
<circle cx="551.00" cy="194.50" r="2.3" fill="#efaa5e"/>
<text x="558.70" y="197.10" font-size="8.3">Rosiglitazone</text>
<text x="605.00" y="325.50" font-size="9.5" text-anchor="middle">HPGD Expression</text>
<text x="605.00" y="336.30" font-size="9.5" text-anchor="middle">(Relative to Loading)</text>
<text transform="translate(508.40,236.00) rotate(-90)" font-size="9.5" text-anchor="middle" fill="#000">NECTIN4 Expression</text>
<text transform="translate(519.50,236.00) rotate(-90)" font-size="9.5" text-anchor="middle" fill="#000">(Relative to Loading)</text>
<text x="15.50" y="348.80" font-size="19" font-weight="bold">e</text>
<text x="44.60" y="351.00" font-size="13.3" font-style="italic">RT112 tumor xenografts</text>
<line x1="0.70" y1="383.50" x2="10.70" y2="383.50" stroke="#000" stroke-width="0.9"/>
<circle cx="5.70" cy="383.50" r="1.5" fill="#000"/>
<text x="15.90" y="386.11" font-size="7.25">Vehicle + NTD T Cells (n=5)</text>
<line x1="0.70" y1="396.50" x2="10.70" y2="396.50" stroke="#eba865" stroke-width="0.9"/>
<circle cx="5.70" cy="396.50" r="1.5" fill="#eba865"/>
<text x="15.90" y="399.11" font-size="7.25">Rosi + NTD T Cells (n=5)</text>
<line x1="114.60" y1="383.50" x2="124.60" y2="383.50" stroke="#ff0000" stroke-width="0.9"/>
<circle cx="119.60" cy="383.50" r="1.5" fill="#ff0000"/>
<text x="129.80" y="386.11" font-size="7.25">Vehicle + NECTIN4-CAR T Cells (n=7)</text>
<line x1="114.60" y1="396.50" x2="124.60" y2="396.50" stroke="#0000ff" stroke-width="0.9"/>
<circle cx="119.60" cy="396.50" r="1.5" fill="#0000ff"/>
<text x="129.80" y="399.11" font-size="7.25">Rosi + NECTIN4-CAR T Cells (n=7)</text>
<line x1="54.50" y1="410.30" x2="54.50" y2="502.30" stroke="#000" stroke-width="1.3"/>
<line x1="54.00" y1="501.80" x2="190.80" y2="501.80" stroke="#000" stroke-width="1.3"/>
<line x1="50.50" y1="501.80" x2="54.50" y2="501.80" stroke="#000" stroke-width="1.0"/>
<text x="49.50" y="504.32" font-size="7.0" text-anchor="end">0</text>
<line x1="52.00" y1="492.71" x2="54.50" y2="492.71" stroke="#000" stroke-width="0.9"/>
<line x1="50.50" y1="483.62" x2="54.50" y2="483.62" stroke="#000" stroke-width="1.0"/>
<text x="49.50" y="486.14" font-size="7.0" text-anchor="end">500</text>
<line x1="52.00" y1="474.53" x2="54.50" y2="474.53" stroke="#000" stroke-width="0.9"/>
<line x1="50.50" y1="465.44" x2="54.50" y2="465.44" stroke="#000" stroke-width="1.0"/>
<text x="49.50" y="467.96" font-size="7.0" text-anchor="end">1000</text>
<line x1="52.00" y1="456.35" x2="54.50" y2="456.35" stroke="#000" stroke-width="0.9"/>
<line x1="50.50" y1="447.26" x2="54.50" y2="447.26" stroke="#000" stroke-width="1.0"/>
<text x="49.50" y="449.78" font-size="7.0" text-anchor="end">1500</text>
<line x1="52.00" y1="438.17" x2="54.50" y2="438.17" stroke="#000" stroke-width="0.9"/>
<line x1="50.50" y1="429.08" x2="54.50" y2="429.08" stroke="#000" stroke-width="1.0"/>
<text x="49.50" y="431.60" font-size="7.0" text-anchor="end">2000</text>
<line x1="52.00" y1="419.99" x2="54.50" y2="419.99" stroke="#000" stroke-width="0.9"/>
<line x1="50.50" y1="410.90" x2="54.50" y2="410.90" stroke="#000" stroke-width="1.0"/>
<text x="49.50" y="413.42" font-size="7.0" text-anchor="end">2500</text>
<line x1="61.20" y1="501.80" x2="61.20" y2="505.30" stroke="#000" stroke-width="1.0"/>
<text x="61.20" y="512.65" font-size="7.0" text-anchor="middle">1</text>
<line x1="73.55" y1="501.80" x2="73.55" y2="505.30" stroke="#000" stroke-width="1.0"/>
<text x="73.55" y="512.65" font-size="7.0" text-anchor="middle">4</text>
<line x1="85.90" y1="501.80" x2="85.90" y2="505.30" stroke="#000" stroke-width="1.0"/>
<text x="85.90" y="512.65" font-size="7.0" text-anchor="middle">7</text>
<line x1="98.25" y1="501.80" x2="98.25" y2="505.30" stroke="#000" stroke-width="1.0"/>
<text x="98.25" y="512.65" font-size="7.0" text-anchor="middle">11</text>
<line x1="110.60" y1="501.80" x2="110.60" y2="505.30" stroke="#000" stroke-width="1.0"/>
<text x="110.60" y="512.65" font-size="7.0" text-anchor="middle">14</text>
<line x1="122.95" y1="501.80" x2="122.95" y2="505.30" stroke="#000" stroke-width="1.0"/>
<text x="122.95" y="512.65" font-size="7.0" text-anchor="middle">18</text>
<line x1="135.30" y1="501.80" x2="135.30" y2="505.30" stroke="#000" stroke-width="1.0"/>
<text x="135.30" y="512.65" font-size="7.0" text-anchor="middle">21</text>
<line x1="147.65" y1="501.80" x2="147.65" y2="505.30" stroke="#000" stroke-width="1.0"/>
<text x="147.65" y="512.65" font-size="7.0" text-anchor="middle">25</text>
<line x1="160.00" y1="501.80" x2="160.00" y2="505.30" stroke="#000" stroke-width="1.0"/>
<text x="160.00" y="512.65" font-size="7.0" text-anchor="middle">28</text>
<line x1="172.35" y1="501.80" x2="172.35" y2="505.30" stroke="#000" stroke-width="1.0"/>
<text x="172.35" y="512.65" font-size="7.0" text-anchor="middle">31</text>
<line x1="184.70" y1="501.80" x2="184.70" y2="505.30" stroke="#000" stroke-width="1.0"/>
<text x="184.70" y="512.65" font-size="7.0" text-anchor="middle">34</text>
<line x1="73.55" y1="496.40" x2="73.55" y2="497.40" stroke="#2a2aff" stroke-width="0.8"/>
<line x1="71.25" y1="496.40" x2="75.85" y2="496.40" stroke="#2a2aff" stroke-width="0.8"/>
<line x1="71.25" y1="497.40" x2="75.85" y2="497.40" stroke="#2a2aff" stroke-width="0.8"/>
<line x1="85.90" y1="497.45" x2="85.90" y2="498.45" stroke="#2a2aff" stroke-width="0.8"/>
<line x1="83.60" y1="497.45" x2="88.20" y2="497.45" stroke="#2a2aff" stroke-width="0.8"/>
<line x1="83.60" y1="498.45" x2="88.20" y2="498.45" stroke="#2a2aff" stroke-width="0.8"/>
<line x1="98.25" y1="498.24" x2="98.25" y2="499.24" stroke="#2a2aff" stroke-width="0.8"/>
<line x1="95.95" y1="498.24" x2="100.55" y2="498.24" stroke="#2a2aff" stroke-width="0.8"/>
<line x1="95.95" y1="499.24" x2="100.55" y2="499.24" stroke="#2a2aff" stroke-width="0.8"/>
<line x1="110.60" y1="498.76" x2="110.60" y2="499.76" stroke="#2a2aff" stroke-width="0.8"/>
<line x1="108.30" y1="498.76" x2="112.90" y2="498.76" stroke="#2a2aff" stroke-width="0.8"/>
<line x1="108.30" y1="499.76" x2="112.90" y2="499.76" stroke="#2a2aff" stroke-width="0.8"/>
<line x1="122.95" y1="498.24" x2="122.95" y2="499.24" stroke="#2a2aff" stroke-width="0.8"/>
<line x1="120.65" y1="498.24" x2="125.25" y2="498.24" stroke="#2a2aff" stroke-width="0.8"/>
<line x1="120.65" y1="499.24" x2="125.25" y2="499.24" stroke="#2a2aff" stroke-width="0.8"/>
<line x1="135.30" y1="496.95" x2="135.30" y2="498.95" stroke="#2a2aff" stroke-width="0.8"/>
<line x1="133.00" y1="496.95" x2="137.60" y2="496.95" stroke="#2a2aff" stroke-width="0.8"/>
<line x1="133.00" y1="498.95" x2="137.60" y2="498.95" stroke="#2a2aff" stroke-width="0.8"/>
<line x1="147.65" y1="494.88" x2="147.65" y2="497.88" stroke="#2a2aff" stroke-width="0.8"/>
<line x1="145.35" y1="494.88" x2="149.95" y2="494.88" stroke="#2a2aff" stroke-width="0.8"/>
<line x1="145.35" y1="497.88" x2="149.95" y2="497.88" stroke="#2a2aff" stroke-width="0.8"/>
<line x1="160.00" y1="490.22" x2="160.00" y2="496.22" stroke="#2a2aff" stroke-width="0.8"/>
<line x1="157.70" y1="490.22" x2="162.30" y2="490.22" stroke="#2a2aff" stroke-width="0.8"/>
<line x1="157.70" y1="496.22" x2="162.30" y2="496.22" stroke="#2a2aff" stroke-width="0.8"/>
<line x1="172.35" y1="485.29" x2="172.35" y2="493.29" stroke="#2a2aff" stroke-width="0.8"/>
<line x1="170.05" y1="485.29" x2="174.65" y2="485.29" stroke="#2a2aff" stroke-width="0.8"/>
<line x1="170.05" y1="493.29" x2="174.65" y2="493.29" stroke="#2a2aff" stroke-width="0.8"/>
<line x1="184.70" y1="476.98" x2="184.70" y2="488.98" stroke="#2a2aff" stroke-width="0.8"/>
<line x1="182.40" y1="476.98" x2="187.00" y2="476.98" stroke="#2a2aff" stroke-width="0.8"/>
<line x1="182.40" y1="488.98" x2="187.00" y2="488.98" stroke="#2a2aff" stroke-width="0.8"/>
<polyline points="61.20,497.95 73.55,496.90 85.90,497.95 98.25,498.74 110.60,499.26 122.95,498.74 135.30,497.95 147.65,496.38 160.00,493.22 172.35,489.29 184.70,482.98" stroke="#0000ff" stroke-width="0.8" fill="none"/>
<circle cx="61.20" cy="497.95" r="1.75" fill="#0000ff"/>
<circle cx="73.55" cy="496.90" r="1.75" fill="#0000ff"/>
<circle cx="85.90" cy="497.95" r="1.75" fill="#0000ff"/>
<circle cx="98.25" cy="498.74" r="1.75" fill="#0000ff"/>
<circle cx="110.60" cy="499.26" r="1.75" fill="#0000ff"/>
<circle cx="122.95" cy="498.74" r="1.75" fill="#0000ff"/>
<circle cx="135.30" cy="497.95" r="1.75" fill="#0000ff"/>
<circle cx="147.65" cy="496.38" r="1.75" fill="#0000ff"/>
<circle cx="160.00" cy="493.22" r="1.75" fill="#0000ff"/>
<circle cx="172.35" cy="489.29" r="1.75" fill="#0000ff"/>
<circle cx="184.70" cy="482.98" r="1.75" fill="#0000ff"/>
<line x1="73.55" y1="493.54" x2="73.55" y2="495.54" stroke="#ff4848" stroke-width="0.8"/>
<line x1="71.25" y1="493.54" x2="75.85" y2="493.54" stroke="#ff4848" stroke-width="0.8"/>
<line x1="71.25" y1="495.54" x2="75.85" y2="495.54" stroke="#ff4848" stroke-width="0.8"/>
<line x1="85.90" y1="493.54" x2="85.90" y2="495.54" stroke="#ff4848" stroke-width="0.8"/>
<line x1="83.60" y1="493.54" x2="88.20" y2="493.54" stroke="#ff4848" stroke-width="0.8"/>
<line x1="83.60" y1="495.54" x2="88.20" y2="495.54" stroke="#ff4848" stroke-width="0.8"/>
<line x1="98.25" y1="493.01" x2="98.25" y2="495.01" stroke="#ff4848" stroke-width="0.8"/>
<line x1="95.95" y1="493.01" x2="100.55" y2="493.01" stroke="#ff4848" stroke-width="0.8"/>
<line x1="95.95" y1="495.01" x2="100.55" y2="495.01" stroke="#ff4848" stroke-width="0.8"/>
<line x1="110.60" y1="488.36" x2="110.60" y2="493.36" stroke="#ff4848" stroke-width="0.8"/>
<line x1="108.30" y1="488.36" x2="112.90" y2="488.36" stroke="#ff4848" stroke-width="0.8"/>
<line x1="108.30" y1="493.36" x2="112.90" y2="493.36" stroke="#ff4848" stroke-width="0.8"/>
<line x1="122.95" y1="480.58" x2="122.95" y2="489.58" stroke="#ff4848" stroke-width="0.8"/>
<line x1="120.65" y1="480.58" x2="125.25" y2="480.58" stroke="#ff4848" stroke-width="0.8"/>
<line x1="120.65" y1="489.58" x2="125.25" y2="489.58" stroke="#ff4848" stroke-width="0.8"/>
<line x1="135.30" y1="468.68" x2="135.30" y2="484.68" stroke="#ff4848" stroke-width="0.8"/>
<line x1="133.00" y1="468.68" x2="137.60" y2="468.68" stroke="#ff4848" stroke-width="0.8"/>
<line x1="133.00" y1="484.68" x2="137.60" y2="484.68" stroke="#ff4848" stroke-width="0.8"/>
<line x1="147.65" y1="458.39" x2="147.65" y2="480.79" stroke="#ff4848" stroke-width="0.8"/>
<line x1="145.35" y1="458.39" x2="149.95" y2="458.39" stroke="#ff4848" stroke-width="0.8"/>
<line x1="145.35" y1="480.79" x2="149.95" y2="480.79" stroke="#ff4848" stroke-width="0.8"/>
<line x1="160.00" y1="459.59" x2="160.00" y2="479.59" stroke="#ff4848" stroke-width="0.8"/>
<line x1="157.70" y1="459.59" x2="162.30" y2="459.59" stroke="#ff4848" stroke-width="0.8"/>
<line x1="157.70" y1="479.59" x2="162.30" y2="479.59" stroke="#ff4848" stroke-width="0.8"/>
<line x1="172.35" y1="452.30" x2="172.35" y2="472.70" stroke="#ff4848" stroke-width="0.8"/>
<line x1="170.05" y1="452.30" x2="174.65" y2="452.30" stroke="#ff4848" stroke-width="0.8"/>
<line x1="170.05" y1="472.70" x2="174.65" y2="472.70" stroke="#ff4848" stroke-width="0.8"/>
<line x1="184.70" y1="444.35" x2="184.70" y2="465.95" stroke="#ff4848" stroke-width="0.8"/>
<line x1="182.40" y1="444.35" x2="187.00" y2="444.35" stroke="#ff4848" stroke-width="0.8"/>
<line x1="182.40" y1="465.95" x2="187.00" y2="465.95" stroke="#ff4848" stroke-width="0.8"/>
<polyline points="61.20,497.95 73.55,494.54 85.90,494.54 98.25,494.01 110.60,490.86 122.95,485.08 135.30,476.68 147.65,469.59 160.00,469.59 172.35,462.50 184.70,455.15" stroke="#ff0000" stroke-width="0.8" fill="none"/>
<circle cx="61.20" cy="497.95" r="1.75" fill="#ff0000"/>
<circle cx="73.55" cy="494.54" r="1.75" fill="#ff0000"/>
<circle cx="85.90" cy="494.54" r="1.75" fill="#ff0000"/>
<circle cx="98.25" cy="494.01" r="1.75" fill="#ff0000"/>
<circle cx="110.60" cy="490.86" r="1.75" fill="#ff0000"/>
<circle cx="122.95" cy="485.08" r="1.75" fill="#ff0000"/>
<circle cx="135.30" cy="476.68" r="1.75" fill="#ff0000"/>
<circle cx="147.65" cy="469.59" r="1.75" fill="#ff0000"/>
<circle cx="160.00" cy="469.59" r="1.75" fill="#ff0000"/>
<circle cx="172.35" cy="462.50" r="1.75" fill="#ff0000"/>
<circle cx="184.70" cy="455.15" r="1.75" fill="#ff0000"/>
<line x1="73.55" y1="492.22" x2="73.55" y2="494.22" stroke="#eba865" stroke-width="0.8"/>
<line x1="71.25" y1="492.22" x2="75.85" y2="492.22" stroke="#eba865" stroke-width="0.8"/>
<line x1="71.25" y1="494.22" x2="75.85" y2="494.22" stroke="#eba865" stroke-width="0.8"/>
<line x1="85.90" y1="486.47" x2="85.90" y2="489.47" stroke="#eba865" stroke-width="0.8"/>
<line x1="83.60" y1="486.47" x2="88.20" y2="486.47" stroke="#eba865" stroke-width="0.8"/>
<line x1="83.60" y1="489.47" x2="88.20" y2="489.47" stroke="#eba865" stroke-width="0.8"/>
<line x1="98.25" y1="476.04" x2="98.25" y2="482.04" stroke="#eba865" stroke-width="0.8"/>
<line x1="95.95" y1="476.04" x2="100.55" y2="476.04" stroke="#eba865" stroke-width="0.8"/>
<line x1="95.95" y1="482.04" x2="100.55" y2="482.04" stroke="#eba865" stroke-width="0.8"/>
<line x1="110.60" y1="467.69" x2="110.60" y2="475.69" stroke="#eba865" stroke-width="0.8"/>
<line x1="108.30" y1="467.69" x2="112.90" y2="467.69" stroke="#eba865" stroke-width="0.8"/>
<line x1="108.30" y1="475.69" x2="112.90" y2="475.69" stroke="#eba865" stroke-width="0.8"/>
<line x1="122.95" y1="451.27" x2="122.95" y2="464.27" stroke="#eba865" stroke-width="0.8"/>
<line x1="120.65" y1="451.27" x2="125.25" y2="451.27" stroke="#eba865" stroke-width="0.8"/>
<line x1="120.65" y1="464.27" x2="125.25" y2="464.27" stroke="#eba865" stroke-width="0.8"/>
<line x1="135.30" y1="447.83" x2="135.30" y2="459.83" stroke="#eba865" stroke-width="0.8"/>
<line x1="133.00" y1="447.83" x2="137.60" y2="447.83" stroke="#eba865" stroke-width="0.8"/>
<line x1="133.00" y1="459.83" x2="137.60" y2="459.83" stroke="#eba865" stroke-width="0.8"/>
<line x1="147.65" y1="434.83" x2="147.65" y2="451.83" stroke="#eba865" stroke-width="0.8"/>
<line x1="145.35" y1="434.83" x2="149.95" y2="434.83" stroke="#eba865" stroke-width="0.8"/>
<line x1="145.35" y1="451.83" x2="149.95" y2="451.83" stroke="#eba865" stroke-width="0.8"/>
<polyline points="61.20,497.95 73.55,493.22 85.90,487.97 98.25,479.04 110.60,471.69 122.95,457.77 135.30,453.83 147.65,443.33" stroke="#eba865" stroke-width="0.8" fill="none"/>
<circle cx="61.20" cy="497.95" r="1.75" fill="#eba865"/>
<circle cx="73.55" cy="493.22" r="1.75" fill="#eba865"/>
<circle cx="85.90" cy="487.97" r="1.75" fill="#eba865"/>
<circle cx="98.25" cy="479.04" r="1.75" fill="#eba865"/>
<circle cx="110.60" cy="471.69" r="1.75" fill="#eba865"/>
<circle cx="122.95" cy="457.77" r="1.75" fill="#eba865"/>
<circle cx="135.30" cy="453.83" r="1.75" fill="#eba865"/>
<circle cx="147.65" cy="443.33" r="1.75" fill="#eba865"/>
<line x1="73.55" y1="490.15" x2="73.55" y2="493.15" stroke="#777" stroke-width="0.8"/>
<line x1="71.25" y1="490.15" x2="75.85" y2="490.15" stroke="#777" stroke-width="0.8"/>
<line x1="71.25" y1="493.15" x2="75.85" y2="493.15" stroke="#777" stroke-width="0.8"/>
<line x1="85.90" y1="483.90" x2="85.90" y2="488.90" stroke="#777" stroke-width="0.8"/>
<line x1="83.60" y1="483.90" x2="88.20" y2="483.90" stroke="#777" stroke-width="0.8"/>
<line x1="83.60" y1="488.90" x2="88.20" y2="488.90" stroke="#777" stroke-width="0.8"/>
<line x1="98.25" y1="464.22" x2="98.25" y2="476.02" stroke="#777" stroke-width="0.8"/>
<line x1="95.95" y1="464.22" x2="100.55" y2="464.22" stroke="#777" stroke-width="0.8"/>
<line x1="95.95" y1="476.02" x2="100.55" y2="476.02" stroke="#777" stroke-width="0.8"/>
<line x1="110.60" y1="455.59" x2="110.60" y2="470.99" stroke="#777" stroke-width="0.8"/>
<line x1="108.30" y1="455.59" x2="112.90" y2="455.59" stroke="#777" stroke-width="0.8"/>
<line x1="108.30" y1="470.99" x2="112.90" y2="470.99" stroke="#777" stroke-width="0.8"/>
<line x1="122.95" y1="439.38" x2="122.95" y2="457.78" stroke="#777" stroke-width="0.8"/>
<line x1="120.65" y1="439.38" x2="125.25" y2="439.38" stroke="#777" stroke-width="0.8"/>
<line x1="120.65" y1="457.78" x2="125.25" y2="457.78" stroke="#777" stroke-width="0.8"/>
<line x1="135.30" y1="427.88" x2="135.30" y2="448.28" stroke="#777" stroke-width="0.8"/>
<line x1="133.00" y1="427.88" x2="137.60" y2="427.88" stroke="#777" stroke-width="0.8"/>
<line x1="133.00" y1="448.28" x2="137.60" y2="448.28" stroke="#777" stroke-width="0.8"/>
<line x1="147.65" y1="416.65" x2="147.65" y2="441.65" stroke="#777" stroke-width="0.8"/>
<line x1="145.35" y1="416.65" x2="149.95" y2="416.65" stroke="#777" stroke-width="0.8"/>
<line x1="145.35" y1="441.65" x2="149.95" y2="441.65" stroke="#777" stroke-width="0.8"/>
<polyline points="61.20,497.95 73.55,491.65 85.90,486.40 98.25,470.12 110.60,463.29 122.95,448.58 135.30,438.08 147.65,429.15" stroke="#000" stroke-width="0.8" fill="none"/>
<circle cx="61.20" cy="497.95" r="1.75" fill="#000"/>
<circle cx="73.55" cy="491.65" r="1.75" fill="#000"/>
<circle cx="85.90" cy="486.40" r="1.75" fill="#000"/>
<circle cx="98.25" cy="470.12" r="1.75" fill="#000"/>
<circle cx="110.60" cy="463.29" r="1.75" fill="#000"/>
<circle cx="122.95" cy="448.58" r="1.75" fill="#000"/>
<circle cx="135.30" cy="438.08" r="1.75" fill="#000"/>
<circle cx="147.65" cy="429.15" r="1.75" fill="#000"/>
<text x="123.60" y="525.60" font-size="8.55" text-anchor="middle">Days post IV CAR T Cell Injection</text>
<text transform="translate(29.70,456.50) rotate(-90)" font-size="8.6" text-anchor="middle" fill="#000">Tumor Volume (mm<tspan font-size="5.5" dy="-3.5">3</tspan><tspan dy="3.5">)</tspan></text>
<text x="151.30" y="437.50" font-size="8">ns</text>
<text x="135.30" y="494.80" font-size="7.6" font-weight="bold" text-anchor="middle">**</text>
<text x="148.00" y="491.00" font-size="7.6" font-weight="bold" text-anchor="middle">***</text>
<text x="160.50" y="488.40" font-size="7.6" font-weight="bold" text-anchor="middle">***</text>
<text x="172.90" y="482.30" font-size="7.6" font-weight="bold" text-anchor="middle">***</text>
<text x="185.00" y="474.40" font-size="7.6" font-weight="bold" text-anchor="middle">****</text>
<text x="267.80" y="350.80" font-size="19" font-weight="bold">f</text>
<line x1="329.90" y1="393.10" x2="329.90" y2="500.80" stroke="#000" stroke-width="1.3"/>
<line x1="329.40" y1="500.30" x2="469.90" y2="500.30" stroke="#000" stroke-width="1.3"/>
<line x1="325.90" y1="500.30" x2="329.90" y2="500.30" stroke="#000" stroke-width="1.1"/>
<text x="324.40" y="503.00" font-size="7.6" font-weight="bold" text-anchor="end">0</text>
<line x1="325.90" y1="452.00" x2="329.90" y2="452.00" stroke="#000" stroke-width="1.1"/>
<text x="324.40" y="454.70" font-size="7.6" font-weight="bold" text-anchor="end">50</text>
<line x1="325.90" y1="403.70" x2="329.90" y2="403.70" stroke="#000" stroke-width="1.1"/>
<text x="324.40" y="406.40" font-size="7.6" font-weight="bold" text-anchor="end">100</text>
<line x1="327.40" y1="476.15" x2="329.90" y2="476.15" stroke="#000" stroke-width="1.0"/>
<line x1="327.40" y1="427.85" x2="329.90" y2="427.85" stroke="#000" stroke-width="1.0"/>
<line x1="329.90" y1="500.30" x2="329.90" y2="504.30" stroke="#000" stroke-width="1.1"/>
<text x="329.90" y="514.20" font-size="7.6" font-weight="bold" text-anchor="middle">0</text>
<line x1="357.80" y1="500.30" x2="357.80" y2="504.30" stroke="#000" stroke-width="1.1"/>
<text x="357.80" y="514.20" font-size="7.6" font-weight="bold" text-anchor="middle">20</text>
<line x1="385.70" y1="500.30" x2="385.70" y2="504.30" stroke="#000" stroke-width="1.1"/>
<text x="385.70" y="514.20" font-size="7.6" font-weight="bold" text-anchor="middle">40</text>
<line x1="413.60" y1="500.30" x2="413.60" y2="504.30" stroke="#000" stroke-width="1.1"/>
<text x="413.60" y="514.20" font-size="7.6" font-weight="bold" text-anchor="middle">60</text>
<line x1="441.50" y1="500.30" x2="441.50" y2="504.30" stroke="#000" stroke-width="1.1"/>
<text x="441.50" y="514.20" font-size="7.6" font-weight="bold" text-anchor="middle">80</text>
<line x1="469.40" y1="500.30" x2="469.40" y2="504.30" stroke="#000" stroke-width="1.1"/>
<text x="469.40" y="514.20" font-size="7.6" font-weight="bold" text-anchor="middle">100</text>
<line x1="343.85" y1="500.30" x2="343.85" y2="502.80" stroke="#000" stroke-width="1.0"/>
<line x1="371.75" y1="500.30" x2="371.75" y2="502.80" stroke="#000" stroke-width="1.0"/>
<line x1="399.65" y1="500.30" x2="399.65" y2="502.80" stroke="#000" stroke-width="1.0"/>
<line x1="427.55" y1="500.30" x2="427.55" y2="502.80" stroke="#000" stroke-width="1.0"/>
<line x1="455.45" y1="500.30" x2="455.45" y2="502.80" stroke="#000" stroke-width="1.0"/>
<polyline points="364.77,461.66 377.33,461.66 377.33,500.30" stroke="#f7a11a" stroke-width="1.4" fill="none"/>
<polyline points="364.77,417.51 396.86,417.51 396.86,483.78 461.03,483.78" stroke="#f2432d" stroke-width="1.4" fill="none"/>
<polyline points="364.77,403.70 377.33,403.70 377.33,419.83 396.86,419.83 396.86,435.87 427.55,435.87 427.55,452.00 461.03,452.00" stroke="#2a54ef" stroke-width="1.4" fill="none"/>
<polyline points="329.90,403.70 364.77,403.70 364.77,500.30" stroke="#000" stroke-width="1.4" fill="none"/>
<line x1="461.03" y1="450.50" x2="461.03" y2="453.00" stroke="#333" stroke-width="1"/>
<line x1="461.03" y1="482.28" x2="461.03" y2="484.78" stroke="#333" stroke-width="1"/>
<text x="399.80" y="526.60" font-size="8.7" font-weight="bold" text-anchor="middle">Days</text>
<text transform="translate(305.00,447.00) rotate(-90)" font-size="8.7" text-anchor="middle" font-weight="bold" fill="#000">Probability of Survival</text>
<line x1="482.50" y1="401.20" x2="495.20" y2="401.20" stroke="#000" stroke-width="1.3"/>
<line x1="488.80" y1="399.70" x2="488.80" y2="401.20" stroke="#333" stroke-width="0.8"/>
<text x="501.70" y="404.20" font-size="8.5">Vehicle + NTD T Cells (25 days)</text>
<line x1="482.50" y1="415.80" x2="495.20" y2="415.80" stroke="#f7a11a" stroke-width="1.3"/>
<line x1="488.80" y1="414.30" x2="488.80" y2="415.80" stroke="#333" stroke-width="0.8"/>
<text x="501.70" y="418.80" font-size="8.5">Rosi + NTD T Cells (25 days)</text>
<line x1="482.50" y1="430.40" x2="495.20" y2="430.40" stroke="#f2432d" stroke-width="1.3"/>
<line x1="488.80" y1="428.90" x2="488.80" y2="430.40" stroke="#333" stroke-width="0.8"/>
<text x="501.70" y="433.40" font-size="8.5">Vehicle + NECTIN4-CAR T Cells (48 days)</text>
<line x1="482.50" y1="445.00" x2="495.20" y2="445.00" stroke="#2a54ef" stroke-width="1.3"/>
<line x1="488.80" y1="443.50" x2="488.80" y2="445.00" stroke="#333" stroke-width="0.8"/>
<text x="501.70" y="448.00" font-size="8.5">Rosi + NECTIN4-CAR T Cells (82 days)</text>
<text x="480.90" y="464.70" font-size="8.5">log-rank test <tspan font-style="italic">P</tspan> = 0.0001743</text>
<text x="16.00" y="558.60" font-size="19" font-weight="bold">g</text>
<text x="45.00" y="565.20" font-size="13.3" font-style="italic">RT112 tumor xenografts</text>
<line x1="0.70" y1="582.10" x2="10.70" y2="582.10" stroke="#000" stroke-width="0.9"/>
<circle cx="5.70" cy="582.10" r="1.5" fill="#000"/>
<text x="16.30" y="584.81" font-size="7.52">Vehicle + NTD T Cells (n=5)</text>
<line x1="0.70" y1="595.40" x2="10.70" y2="595.40" stroke="#eba865" stroke-width="0.9"/>
<circle cx="5.70" cy="595.40" r="1.5" fill="#eba865"/>
<text x="16.30" y="598.11" font-size="7.52">Rosi + NTD T Cells (n=5)</text>
<line x1="117.60" y1="582.10" x2="127.60" y2="582.10" stroke="#ff0000" stroke-width="0.9"/>
<circle cx="122.60" cy="582.10" r="1.5" fill="#ff0000"/>
<text x="133.20" y="584.81" font-size="7.52">Vehicle + NECTIN4-CAR T Cells (n=7)</text>
<line x1="117.60" y1="595.40" x2="127.60" y2="595.40" stroke="#0000ff" stroke-width="0.9"/>
<circle cx="122.60" cy="595.40" r="1.5" fill="#0000ff"/>
<text x="133.20" y="598.11" font-size="7.52">Rosi + NECTIN4-CAR T Cells (n=7)</text>
<line x1="54.50" y1="607.70" x2="54.50" y2="702.70" stroke="#000" stroke-width="1.3"/>
<line x1="54.00" y1="702.20" x2="194.30" y2="702.20" stroke="#000" stroke-width="1.3"/>
<line x1="50.50" y1="702.20" x2="54.50" y2="702.20" stroke="#000" stroke-width="1.0"/>
<text x="49.50" y="704.72" font-size="7.0" text-anchor="end">15</text>
<line x1="52.00" y1="690.45" x2="54.50" y2="690.45" stroke="#000" stroke-width="0.9"/>
<line x1="50.50" y1="678.70" x2="54.50" y2="678.70" stroke="#000" stroke-width="1.0"/>
<text x="49.50" y="681.22" font-size="7.0" text-anchor="end">20</text>
<line x1="52.00" y1="666.95" x2="54.50" y2="666.95" stroke="#000" stroke-width="0.9"/>
<line x1="50.50" y1="655.20" x2="54.50" y2="655.20" stroke="#000" stroke-width="1.0"/>
<text x="49.50" y="657.72" font-size="7.0" text-anchor="end">25</text>
<line x1="52.00" y1="643.45" x2="54.50" y2="643.45" stroke="#000" stroke-width="0.9"/>
<line x1="50.50" y1="631.70" x2="54.50" y2="631.70" stroke="#000" stroke-width="1.0"/>
<text x="49.50" y="634.22" font-size="7.0" text-anchor="end">30</text>
<line x1="52.00" y1="619.95" x2="54.50" y2="619.95" stroke="#000" stroke-width="0.9"/>
<line x1="50.50" y1="608.20" x2="54.50" y2="608.20" stroke="#000" stroke-width="1.0"/>
<text x="49.50" y="610.72" font-size="7.0" text-anchor="end">35</text>
<line x1="60.00" y1="702.20" x2="60.00" y2="705.70" stroke="#000" stroke-width="1.0"/>
<text x="60.00" y="713.05" font-size="7.0" text-anchor="middle">1</text>
<line x1="72.85" y1="702.20" x2="72.85" y2="705.70" stroke="#000" stroke-width="1.0"/>
<text x="72.85" y="713.05" font-size="7.0" text-anchor="middle">4</text>
<line x1="85.70" y1="702.20" x2="85.70" y2="705.70" stroke="#000" stroke-width="1.0"/>
<text x="85.70" y="713.05" font-size="7.0" text-anchor="middle">7</text>
<line x1="98.55" y1="702.20" x2="98.55" y2="705.70" stroke="#000" stroke-width="1.0"/>
<text x="98.55" y="713.05" font-size="7.0" text-anchor="middle">11</text>
<line x1="111.40" y1="702.20" x2="111.40" y2="705.70" stroke="#000" stroke-width="1.0"/>
<text x="111.40" y="713.05" font-size="7.0" text-anchor="middle">14</text>
<line x1="124.25" y1="702.20" x2="124.25" y2="705.70" stroke="#000" stroke-width="1.0"/>
<text x="124.25" y="713.05" font-size="7.0" text-anchor="middle">18</text>
<line x1="137.10" y1="702.20" x2="137.10" y2="705.70" stroke="#000" stroke-width="1.0"/>
<text x="137.10" y="713.05" font-size="7.0" text-anchor="middle">21</text>
<line x1="149.95" y1="702.20" x2="149.95" y2="705.70" stroke="#000" stroke-width="1.0"/>
<text x="149.95" y="713.05" font-size="7.0" text-anchor="middle">25</text>
<line x1="162.80" y1="702.20" x2="162.80" y2="705.70" stroke="#000" stroke-width="1.0"/>
<text x="162.80" y="713.05" font-size="7.0" text-anchor="middle">28</text>
<line x1="175.65" y1="702.20" x2="175.65" y2="705.70" stroke="#000" stroke-width="1.0"/>
<text x="175.65" y="713.05" font-size="7.0" text-anchor="middle">31</text>
<line x1="188.50" y1="702.20" x2="188.50" y2="705.70" stroke="#000" stroke-width="1.0"/>
<text x="188.50" y="713.05" font-size="7.0" text-anchor="middle">34</text>
<line x1="60.00" y1="648.39" x2="60.00" y2="654.39" stroke="#2a2aff" stroke-width="0.8"/>
<line x1="57.70" y1="648.39" x2="62.30" y2="648.39" stroke="#2a2aff" stroke-width="0.8"/>
<line x1="57.70" y1="654.39" x2="62.30" y2="654.39" stroke="#2a2aff" stroke-width="0.8"/>
<line x1="72.85" y1="650.05" x2="72.85" y2="655.05" stroke="#2a2aff" stroke-width="0.8"/>
<line x1="70.55" y1="650.05" x2="75.15" y2="650.05" stroke="#2a2aff" stroke-width="0.8"/>
<line x1="70.55" y1="655.05" x2="75.15" y2="655.05" stroke="#2a2aff" stroke-width="0.8"/>
<line x1="85.70" y1="652.39" x2="85.70" y2="657.39" stroke="#2a2aff" stroke-width="0.8"/>
<line x1="83.40" y1="652.39" x2="88.00" y2="652.39" stroke="#2a2aff" stroke-width="0.8"/>
<line x1="83.40" y1="657.39" x2="88.00" y2="657.39" stroke="#2a2aff" stroke-width="0.8"/>
<line x1="98.55" y1="650.93" x2="98.55" y2="655.93" stroke="#2a2aff" stroke-width="0.8"/>
<line x1="96.25" y1="650.93" x2="100.85" y2="650.93" stroke="#2a2aff" stroke-width="0.8"/>
<line x1="96.25" y1="655.93" x2="100.85" y2="655.93" stroke="#2a2aff" stroke-width="0.8"/>
<line x1="111.40" y1="648.30" x2="111.40" y2="653.30" stroke="#2a2aff" stroke-width="0.8"/>
<line x1="109.10" y1="648.30" x2="113.70" y2="648.30" stroke="#2a2aff" stroke-width="0.8"/>
<line x1="109.10" y1="653.30" x2="113.70" y2="653.30" stroke="#2a2aff" stroke-width="0.8"/>
<line x1="124.25" y1="646.55" x2="124.25" y2="651.55" stroke="#2a2aff" stroke-width="0.8"/>
<line x1="121.95" y1="646.55" x2="126.55" y2="646.55" stroke="#2a2aff" stroke-width="0.8"/>
<line x1="121.95" y1="651.55" x2="126.55" y2="651.55" stroke="#2a2aff" stroke-width="0.8"/>
<line x1="137.10" y1="646.05" x2="137.10" y2="652.05" stroke="#2a2aff" stroke-width="0.8"/>
<line x1="134.80" y1="646.05" x2="139.40" y2="646.05" stroke="#2a2aff" stroke-width="0.8"/>
<line x1="134.80" y1="652.05" x2="139.40" y2="652.05" stroke="#2a2aff" stroke-width="0.8"/>
<line x1="149.95" y1="641.67" x2="149.95" y2="647.67" stroke="#2a2aff" stroke-width="0.8"/>
<line x1="147.65" y1="641.67" x2="152.25" y2="641.67" stroke="#2a2aff" stroke-width="0.8"/>
<line x1="147.65" y1="647.67" x2="152.25" y2="647.67" stroke="#2a2aff" stroke-width="0.8"/>
<line x1="162.80" y1="644.51" x2="162.80" y2="649.51" stroke="#2a2aff" stroke-width="0.8"/>
<line x1="160.50" y1="644.51" x2="165.10" y2="644.51" stroke="#2a2aff" stroke-width="0.8"/>
<line x1="160.50" y1="649.51" x2="165.10" y2="649.51" stroke="#2a2aff" stroke-width="0.8"/>
<line x1="175.65" y1="643.63" x2="175.65" y2="648.63" stroke="#2a2aff" stroke-width="0.8"/>
<line x1="173.35" y1="643.63" x2="177.95" y2="643.63" stroke="#2a2aff" stroke-width="0.8"/>
<line x1="173.35" y1="648.63" x2="177.95" y2="648.63" stroke="#2a2aff" stroke-width="0.8"/>
<line x1="188.50" y1="646.55" x2="188.50" y2="651.55" stroke="#2a2aff" stroke-width="0.8"/>
<line x1="186.20" y1="646.55" x2="190.80" y2="646.55" stroke="#2a2aff" stroke-width="0.8"/>
<line x1="186.20" y1="651.55" x2="190.80" y2="651.55" stroke="#2a2aff" stroke-width="0.8"/>
<polyline points="60.00,651.39 72.85,652.55 85.70,654.89 98.55,653.43 111.40,650.80 124.25,649.05 137.10,649.05 149.95,644.67 162.80,647.01 175.65,646.13 188.50,649.05" stroke="#0000ff" stroke-width="0.8" fill="none"/>
<circle cx="60.00" cy="651.39" r="1.75" fill="#0000ff"/>
<circle cx="72.85" cy="652.55" r="1.75" fill="#0000ff"/>
<circle cx="85.70" cy="654.89" r="1.75" fill="#0000ff"/>
<circle cx="98.55" cy="653.43" r="1.75" fill="#0000ff"/>
<circle cx="111.40" cy="650.80" r="1.75" fill="#0000ff"/>
<circle cx="124.25" cy="649.05" r="1.75" fill="#0000ff"/>
<circle cx="137.10" cy="649.05" r="1.75" fill="#0000ff"/>
<circle cx="149.95" cy="644.67" r="1.75" fill="#0000ff"/>
<circle cx="162.80" cy="647.01" r="1.75" fill="#0000ff"/>
<circle cx="175.65" cy="646.13" r="1.75" fill="#0000ff"/>
<circle cx="188.50" cy="649.05" r="1.75" fill="#0000ff"/>
<line x1="60.00" y1="642.76" x2="60.00" y2="654.76" stroke="#ff4848" stroke-width="0.8"/>
<line x1="57.70" y1="642.76" x2="62.30" y2="642.76" stroke="#ff4848" stroke-width="0.8"/>
<line x1="57.70" y1="654.76" x2="62.30" y2="654.76" stroke="#ff4848" stroke-width="0.8"/>
<line x1="72.85" y1="642.47" x2="72.85" y2="654.47" stroke="#ff4848" stroke-width="0.8"/>
<line x1="70.55" y1="642.47" x2="75.15" y2="642.47" stroke="#ff4848" stroke-width="0.8"/>
<line x1="70.55" y1="654.47" x2="75.15" y2="654.47" stroke="#ff4848" stroke-width="0.8"/>
<line x1="85.70" y1="649.31" x2="85.70" y2="659.31" stroke="#ff4848" stroke-width="0.8"/>
<line x1="83.40" y1="649.31" x2="88.00" y2="649.31" stroke="#ff4848" stroke-width="0.8"/>
<line x1="83.40" y1="659.31" x2="88.00" y2="659.31" stroke="#ff4848" stroke-width="0.8"/>
<line x1="98.55" y1="647.55" x2="98.55" y2="657.55" stroke="#ff4848" stroke-width="0.8"/>
<line x1="96.25" y1="647.55" x2="100.85" y2="647.55" stroke="#ff4848" stroke-width="0.8"/>
<line x1="96.25" y1="657.55" x2="100.85" y2="657.55" stroke="#ff4848" stroke-width="0.8"/>
<line x1="111.40" y1="645.59" x2="111.40" y2="656.59" stroke="#ff4848" stroke-width="0.8"/>
<line x1="109.10" y1="645.59" x2="113.70" y2="645.59" stroke="#ff4848" stroke-width="0.8"/>
<line x1="109.10" y1="656.59" x2="113.70" y2="656.59" stroke="#ff4848" stroke-width="0.8"/>
<line x1="124.25" y1="646.09" x2="124.25" y2="656.09" stroke="#ff4848" stroke-width="0.8"/>
<line x1="121.95" y1="646.09" x2="126.55" y2="646.09" stroke="#ff4848" stroke-width="0.8"/>
<line x1="121.95" y1="656.09" x2="126.55" y2="656.09" stroke="#ff4848" stroke-width="0.8"/>
<line x1="137.10" y1="642.47" x2="137.10" y2="654.47" stroke="#ff4848" stroke-width="0.8"/>
<line x1="134.80" y1="642.47" x2="139.40" y2="642.47" stroke="#ff4848" stroke-width="0.8"/>
<line x1="134.80" y1="654.47" x2="139.40" y2="654.47" stroke="#ff4848" stroke-width="0.8"/>
<line x1="149.95" y1="641.01" x2="149.95" y2="653.01" stroke="#ff4848" stroke-width="0.8"/>
<line x1="147.65" y1="641.01" x2="152.25" y2="641.01" stroke="#ff4848" stroke-width="0.8"/>
<line x1="147.65" y1="653.01" x2="152.25" y2="653.01" stroke="#ff4848" stroke-width="0.8"/>
<line x1="162.80" y1="648.81" x2="162.80" y2="659.81" stroke="#ff4848" stroke-width="0.8"/>
<line x1="160.50" y1="648.81" x2="165.10" y2="648.81" stroke="#ff4848" stroke-width="0.8"/>
<line x1="160.50" y1="659.81" x2="165.10" y2="659.81" stroke="#ff4848" stroke-width="0.8"/>
<line x1="175.65" y1="643.93" x2="175.65" y2="655.93" stroke="#ff4848" stroke-width="0.8"/>
<line x1="173.35" y1="643.93" x2="177.95" y2="643.93" stroke="#ff4848" stroke-width="0.8"/>
<line x1="173.35" y1="655.93" x2="177.95" y2="655.93" stroke="#ff4848" stroke-width="0.8"/>
<line x1="188.50" y1="644.93" x2="188.50" y2="654.93" stroke="#ff4848" stroke-width="0.8"/>
<line x1="186.20" y1="644.93" x2="190.80" y2="644.93" stroke="#ff4848" stroke-width="0.8"/>
<line x1="186.20" y1="654.93" x2="190.80" y2="654.93" stroke="#ff4848" stroke-width="0.8"/>
<polyline points="60.00,648.76 72.85,648.47 85.70,654.31 98.55,652.55 111.40,651.09 124.25,651.09 137.10,648.47 149.95,647.01 162.80,654.31 175.65,649.93 188.50,649.93" stroke="#ff0000" stroke-width="0.8" fill="none"/>
<circle cx="60.00" cy="648.76" r="1.75" fill="#ff0000"/>
<circle cx="72.85" cy="648.47" r="1.75" fill="#ff0000"/>
<circle cx="85.70" cy="654.31" r="1.75" fill="#ff0000"/>
<circle cx="98.55" cy="652.55" r="1.75" fill="#ff0000"/>
<circle cx="111.40" cy="651.09" r="1.75" fill="#ff0000"/>
<circle cx="124.25" cy="651.09" r="1.75" fill="#ff0000"/>
<circle cx="137.10" cy="648.47" r="1.75" fill="#ff0000"/>
<circle cx="149.95" cy="647.01" r="1.75" fill="#ff0000"/>
<circle cx="162.80" cy="654.31" r="1.75" fill="#ff0000"/>
<circle cx="175.65" cy="649.93" r="1.75" fill="#ff0000"/>
<circle cx="188.50" cy="649.93" r="1.75" fill="#ff0000"/>
<line x1="60.00" y1="665.74" x2="60.00" y2="669.74" stroke="#eba865" stroke-width="0.8"/>
<line x1="57.70" y1="665.74" x2="62.30" y2="665.74" stroke="#eba865" stroke-width="0.8"/>
<line x1="57.70" y1="669.74" x2="62.30" y2="669.74" stroke="#eba865" stroke-width="0.8"/>
<line x1="72.85" y1="667.69" x2="72.85" y2="671.29" stroke="#eba865" stroke-width="0.8"/>
<line x1="70.55" y1="667.69" x2="75.15" y2="667.69" stroke="#eba865" stroke-width="0.8"/>
<line x1="70.55" y1="671.29" x2="75.15" y2="671.29" stroke="#eba865" stroke-width="0.8"/>
<line x1="85.70" y1="669.64" x2="85.70" y2="672.84" stroke="#eba865" stroke-width="0.8"/>
<line x1="83.40" y1="669.64" x2="88.00" y2="669.64" stroke="#eba865" stroke-width="0.8"/>
<line x1="83.40" y1="672.84" x2="88.00" y2="672.84" stroke="#eba865" stroke-width="0.8"/>
<line x1="98.55" y1="671.78" x2="98.55" y2="674.78" stroke="#eba865" stroke-width="0.8"/>
<line x1="96.25" y1="671.78" x2="100.85" y2="671.78" stroke="#eba865" stroke-width="0.8"/>
<line x1="96.25" y1="674.78" x2="100.85" y2="674.78" stroke="#eba865" stroke-width="0.8"/>
<line x1="111.40" y1="671.88" x2="111.40" y2="674.68" stroke="#eba865" stroke-width="0.8"/>
<line x1="109.10" y1="671.88" x2="113.70" y2="671.88" stroke="#eba865" stroke-width="0.8"/>
<line x1="109.10" y1="674.68" x2="113.70" y2="674.68" stroke="#eba865" stroke-width="0.8"/>
<line x1="124.25" y1="671.88" x2="124.25" y2="674.68" stroke="#eba865" stroke-width="0.8"/>
<line x1="121.95" y1="671.88" x2="126.55" y2="671.88" stroke="#eba865" stroke-width="0.8"/>
<line x1="121.95" y1="674.68" x2="126.55" y2="674.68" stroke="#eba865" stroke-width="0.8"/>
<line x1="137.10" y1="673.34" x2="137.10" y2="676.14" stroke="#eba865" stroke-width="0.8"/>
<line x1="134.80" y1="673.34" x2="139.40" y2="673.34" stroke="#eba865" stroke-width="0.8"/>
<line x1="134.80" y1="676.14" x2="139.40" y2="676.14" stroke="#eba865" stroke-width="0.8"/>
<line x1="149.95" y1="672.08" x2="149.95" y2="674.48" stroke="#eba865" stroke-width="0.8"/>
<line x1="147.65" y1="672.08" x2="152.25" y2="672.08" stroke="#eba865" stroke-width="0.8"/>
<line x1="147.65" y1="674.48" x2="152.25" y2="674.48" stroke="#eba865" stroke-width="0.8"/>
<polyline points="60.00,667.74 72.85,669.49 85.70,671.24 98.55,673.28 111.40,673.28 124.25,673.28 137.10,674.74 149.95,673.28" stroke="#eba865" stroke-width="0.8" fill="none"/>
<circle cx="60.00" cy="667.74" r="1.75" fill="#eba865"/>
<circle cx="72.85" cy="669.49" r="1.75" fill="#eba865"/>
<circle cx="85.70" cy="671.24" r="1.75" fill="#eba865"/>
<circle cx="98.55" cy="673.28" r="1.75" fill="#eba865"/>
<circle cx="111.40" cy="673.28" r="1.75" fill="#eba865"/>
<circle cx="124.25" cy="673.28" r="1.75" fill="#eba865"/>
<circle cx="137.10" cy="674.74" r="1.75" fill="#eba865"/>
<circle cx="149.95" cy="673.28" r="1.75" fill="#eba865"/>
<line x1="60.00" y1="656.06" x2="60.00" y2="663.06" stroke="#777" stroke-width="0.8"/>
<line x1="57.70" y1="656.06" x2="62.30" y2="656.06" stroke="#777" stroke-width="0.8"/>
<line x1="57.70" y1="663.06" x2="62.30" y2="663.06" stroke="#777" stroke-width="0.8"/>
<line x1="72.85" y1="654.39" x2="72.85" y2="662.39" stroke="#777" stroke-width="0.8"/>
<line x1="70.55" y1="654.39" x2="75.15" y2="654.39" stroke="#777" stroke-width="0.8"/>
<line x1="70.55" y1="662.39" x2="75.15" y2="662.39" stroke="#777" stroke-width="0.8"/>
<line x1="85.70" y1="657.81" x2="85.70" y2="664.81" stroke="#777" stroke-width="0.8"/>
<line x1="83.40" y1="657.81" x2="88.00" y2="657.81" stroke="#777" stroke-width="0.8"/>
<line x1="83.40" y1="664.81" x2="88.00" y2="664.81" stroke="#777" stroke-width="0.8"/>
<line x1="98.55" y1="660.73" x2="98.55" y2="667.73" stroke="#777" stroke-width="0.8"/>
<line x1="96.25" y1="660.73" x2="100.85" y2="660.73" stroke="#777" stroke-width="0.8"/>
<line x1="96.25" y1="667.73" x2="100.85" y2="667.73" stroke="#777" stroke-width="0.8"/>
<line x1="111.40" y1="659.27" x2="111.40" y2="666.27" stroke="#777" stroke-width="0.8"/>
<line x1="109.10" y1="659.27" x2="113.70" y2="659.27" stroke="#777" stroke-width="0.8"/>
<line x1="109.10" y1="666.27" x2="113.70" y2="666.27" stroke="#777" stroke-width="0.8"/>
<line x1="124.25" y1="658.19" x2="124.25" y2="666.19" stroke="#777" stroke-width="0.8"/>
<line x1="121.95" y1="658.19" x2="126.55" y2="658.19" stroke="#777" stroke-width="0.8"/>
<line x1="121.95" y1="666.19" x2="126.55" y2="666.19" stroke="#777" stroke-width="0.8"/>
<line x1="137.10" y1="662.28" x2="137.10" y2="670.28" stroke="#777" stroke-width="0.8"/>
<line x1="134.80" y1="662.28" x2="139.40" y2="662.28" stroke="#777" stroke-width="0.8"/>
<line x1="134.80" y1="670.28" x2="139.40" y2="670.28" stroke="#777" stroke-width="0.8"/>
<line x1="149.95" y1="659.44" x2="149.95" y2="668.44" stroke="#777" stroke-width="0.8"/>
<line x1="147.65" y1="659.44" x2="152.25" y2="659.44" stroke="#777" stroke-width="0.8"/>
<line x1="147.65" y1="668.44" x2="152.25" y2="668.44" stroke="#777" stroke-width="0.8"/>
<polyline points="60.00,659.56 72.85,658.39 85.70,661.31 98.55,664.23 111.40,662.77 124.25,662.19 137.10,666.28 149.95,663.94" stroke="#000" stroke-width="0.8" fill="none"/>
<circle cx="60.00" cy="659.56" r="1.75" fill="#000"/>
<circle cx="72.85" cy="658.39" r="1.75" fill="#000"/>
<circle cx="85.70" cy="661.31" r="1.75" fill="#000"/>
<circle cx="98.55" cy="664.23" r="1.75" fill="#000"/>
<circle cx="111.40" cy="662.77" r="1.75" fill="#000"/>
<circle cx="124.25" cy="662.19" r="1.75" fill="#000"/>
<circle cx="137.10" cy="666.28" r="1.75" fill="#000"/>
<circle cx="149.95" cy="663.94" r="1.75" fill="#000"/>
<text x="124.20" y="726.70" font-size="8.8" text-anchor="middle">Days post IV CAR T Cell Injection</text>
<text transform="translate(37.00,656.20) rotate(-90)" font-size="8.6" text-anchor="middle" fill="#000">Body Weight (grams)</text>
<text x="193.50" y="645.40" font-size="7.6">ns</text>
<text x="206.00" y="660.00" font-size="7.6">ns</text>
<text x="158.00" y="670.50" font-size="7.6">ns</text>
<polyline points="192.30,649.00 201.60,649.00 201.60,663.60 174.70,663.60" stroke="#000" stroke-width="1.0" fill="none"/>
<text x="256.50" y="561.00" font-size="19" font-weight="bold">h</text>
<text x="296.40" y="595.60" font-size="13.3" font-style="italic">HT1197 tumor xenografts</text>
<text x="322.80" y="626.40" font-size="10" text-anchor="middle">Vehicle</text>
<text x="413.10" y="626.60" font-size="10" text-anchor="middle">Rosiglitazone</text>
<line x1="280.20" y1="629.60" x2="365.50" y2="629.60" stroke="#000" stroke-width="1.2"/>
<line x1="370.30" y1="629.60" x2="455.70" y2="629.60" stroke="#000" stroke-width="1.2"/>
<text x="275.80" y="644.40" font-size="10.5" text-anchor="end">65kDa-</text>
<text x="275.80" y="673.80" font-size="10.5" text-anchor="end">30kDa-</text>
<text x="275.80" y="704.60" font-size="10.5" text-anchor="end">115kDa-</text>
<text x="464.40" y="652.60" font-size="10">NECTIN4</text>
<text x="464.40" y="678.00" font-size="10">HPGD</text>
<text x="464.40" y="702.60" font-size="10">Vinculin</text>
<rect x="276.70" y="636.80" width="182.20" height="24.20" fill="#dcdcdc"/>
<clipPath id="clip276_0"><rect x="276.70" y="636.80" width="182.20" height="24.20"/></clipPath>
<g clip-path="url(#clip276_0)">
<rect x="277.61" y="643.50" width="16.40" height="13.00" rx="3.00" fill="rgb(238,238,238)" filter="url(#bl2)"/>
<rect x="295.83" y="643.50" width="16.40" height="13.00" rx="3.00" fill="rgb(136,136,136)" filter="url(#bl2)"/>
<rect x="314.05" y="643.50" width="16.40" height="13.00" rx="3.00" fill="rgb(157,157,157)" filter="url(#bl2)"/>
<rect x="332.27" y="643.50" width="16.40" height="13.00" rx="3.00" fill="rgb(178,178,178)" filter="url(#bl2)"/>
<rect x="350.49" y="643.50" width="16.40" height="13.00" rx="3.00" fill="rgb(115,115,115)" filter="url(#bl2)"/>
<rect x="368.71" y="643.50" width="16.40" height="13.00" rx="3.00" fill="rgb(115,115,115)" filter="url(#bl2)"/>
<rect x="386.93" y="643.50" width="16.40" height="13.00" rx="3.00" fill="rgb(122,122,122)" filter="url(#bl2)"/>
<rect x="405.15" y="643.50" width="16.40" height="13.00" rx="3.00" fill="rgb(115,115,115)" filter="url(#bl2)"/>
<rect x="423.37" y="643.50" width="16.40" height="13.00" rx="3.00" fill="rgb(136,136,136)" filter="url(#bl2)"/>
<rect x="441.59" y="643.50" width="16.40" height="13.00" rx="3.00" fill="rgb(115,115,115)" filter="url(#bl2)"/>
<rect x="277.43" y="645.00" width="16.76" height="6.00" rx="3.00" fill="rgb(224,224,224)" filter="url(#bl2)"/>
<rect x="295.65" y="645.00" width="16.76" height="6.00" rx="3.00" fill="rgb(38,38,38)" filter="url(#bl2)"/>
<rect x="313.87" y="645.00" width="16.76" height="6.00" rx="3.00" fill="rgb(77,77,77)" filter="url(#bl2)"/>
<rect x="332.09" y="645.00" width="16.76" height="6.00" rx="3.00" fill="rgb(115,115,115)" filter="url(#bl2)"/>
<rect x="350.31" y="645.00" width="16.76" height="6.00" rx="3.00" fill="rgb(0,0,0)" filter="url(#bl2)"/>
<rect x="368.53" y="645.00" width="16.76" height="6.00" rx="3.00" fill="rgb(0,0,0)" filter="url(#bl2)"/>
<rect x="386.75" y="645.00" width="16.76" height="6.00" rx="3.00" fill="rgb(13,13,13)" filter="url(#bl2)"/>
<rect x="404.97" y="645.00" width="16.76" height="6.00" rx="3.00" fill="rgb(0,0,0)" filter="url(#bl2)"/>
<rect x="423.19" y="645.00" width="16.76" height="6.00" rx="3.00" fill="rgb(38,38,38)" filter="url(#bl2)"/>
<rect x="441.41" y="645.00" width="16.76" height="6.00" rx="3.00" fill="rgb(0,0,0)" filter="url(#bl2)"/>
<rect x="277.43" y="651.05" width="16.76" height="5.50" rx="2.75" fill="rgb(235,235,235)" filter="url(#bl2)"/>
<rect x="295.65" y="651.05" width="16.76" height="5.50" rx="2.75" fill="rgb(115,115,115)" filter="url(#bl2)"/>
<rect x="313.87" y="651.05" width="16.76" height="5.50" rx="2.75" fill="rgb(128,128,128)" filter="url(#bl2)"/>
<rect x="332.09" y="651.05" width="16.76" height="5.50" rx="2.75" fill="rgb(140,140,140)" filter="url(#bl2)"/>
<rect x="350.31" y="651.05" width="16.76" height="5.50" rx="2.75" fill="rgb(25,25,25)" filter="url(#bl2)"/>
<rect x="368.53" y="651.05" width="16.76" height="5.50" rx="2.75" fill="rgb(25,25,25)" filter="url(#bl2)"/>
<rect x="386.75" y="651.05" width="16.76" height="5.50" rx="2.75" fill="rgb(38,38,38)" filter="url(#bl2)"/>
<rect x="404.97" y="651.05" width="16.76" height="5.50" rx="2.75" fill="rgb(13,13,13)" filter="url(#bl2)"/>
<rect x="423.19" y="651.05" width="16.76" height="5.50" rx="2.75" fill="rgb(102,102,102)" filter="url(#bl2)"/>
<rect x="441.41" y="651.05" width="16.76" height="5.50" rx="2.75" fill="rgb(38,38,38)" filter="url(#bl2)"/>
</g>
<rect x="276.70" y="636.80" width="182.20" height="24.20" fill="none" stroke="#50585e" stroke-width="1.45"/>
<rect x="276.70" y="664.50" width="182.20" height="19.70" fill="#dfdfdf"/>
<clipPath id="clip276_1"><rect x="276.70" y="664.50" width="182.20" height="19.70"/></clipPath>
<g clip-path="url(#clip276_1)">
<rect x="277.61" y="672.25" width="16.40" height="4.30" rx="2.15" fill="rgb(224,224,224)" filter="url(#bl1)"/>
<rect x="295.83" y="672.25" width="16.40" height="4.30" rx="2.15" fill="rgb(102,102,102)" filter="url(#bl1)"/>
<rect x="314.05" y="672.25" width="16.40" height="4.30" rx="2.15" fill="rgb(5,5,5)" filter="url(#bl1)"/>
<rect x="332.27" y="672.25" width="16.40" height="4.30" rx="2.15" fill="rgb(153,153,153)" filter="url(#bl1)"/>
<rect x="350.49" y="672.25" width="16.40" height="4.30" rx="2.15" fill="rgb(140,140,140)" filter="url(#bl1)"/>
<rect x="368.71" y="672.25" width="16.40" height="4.30" rx="2.15" fill="rgb(5,5,5)" filter="url(#bl1)"/>
<rect x="386.93" y="672.25" width="16.40" height="4.30" rx="2.15" fill="rgb(140,140,140)" filter="url(#bl1)"/>
<rect x="405.15" y="672.25" width="16.40" height="4.30" rx="2.15" fill="rgb(38,38,38)" filter="url(#bl1)"/>
<rect x="423.37" y="672.25" width="16.40" height="4.30" rx="2.15" fill="rgb(25,25,25)" filter="url(#bl1)"/>
<rect x="441.59" y="672.25" width="16.40" height="4.30" rx="2.15" fill="rgb(128,128,128)" filter="url(#bl1)"/>
</g>
<rect x="276.70" y="664.50" width="182.20" height="19.70" fill="none" stroke="#50585e" stroke-width="1.45"/>
<rect x="276.70" y="687.50" width="182.20" height="23.00" fill="#d9d9d9"/>
<clipPath id="clip276_2"><rect x="276.70" y="687.50" width="182.20" height="23.00"/></clipPath>
<g clip-path="url(#clip276_2)">
<rect x="276.70" y="695.10" width="18.22" height="7.00" rx="3.00" fill="rgb(0,0,0)" filter="url(#bl1)"/>
<rect x="294.92" y="695.10" width="18.22" height="7.00" rx="3.00" fill="rgb(0,0,0)" filter="url(#bl1)"/>
<rect x="313.14" y="695.10" width="18.22" height="7.00" rx="3.00" fill="rgb(0,0,0)" filter="url(#bl1)"/>
<rect x="331.36" y="695.10" width="18.22" height="7.00" rx="3.00" fill="rgb(0,0,0)" filter="url(#bl1)"/>
<rect x="349.58" y="695.10" width="18.22" height="7.00" rx="3.00" fill="rgb(0,0,0)" filter="url(#bl1)"/>
<rect x="367.80" y="695.10" width="18.22" height="7.00" rx="3.00" fill="rgb(0,0,0)" filter="url(#bl1)"/>
<rect x="386.02" y="695.10" width="18.22" height="7.00" rx="3.00" fill="rgb(0,0,0)" filter="url(#bl1)"/>
<rect x="404.24" y="695.10" width="18.22" height="7.00" rx="3.00" fill="rgb(0,0,0)" filter="url(#bl1)"/>
<rect x="422.46" y="695.10" width="18.22" height="7.00" rx="3.00" fill="rgb(0,0,0)" filter="url(#bl1)"/>
<rect x="440.68" y="695.10" width="18.22" height="7.00" rx="3.00" fill="rgb(0,0,0)" filter="url(#bl1)"/>
</g>
<rect x="276.70" y="687.50" width="182.20" height="23.00" fill="none" stroke="#50585e" stroke-width="1.45"/>
<text x="499.50" y="560.50" font-size="19" font-weight="bold">i</text>
<line x1="575.40" y1="560.80" x2="575.40" y2="692.70" stroke="#000" stroke-width="1.6"/>
<line x1="574.60" y1="691.90" x2="662.10" y2="691.90" stroke="#000" stroke-width="1.6"/>
<line x1="569.90" y1="691.90" x2="575.40" y2="691.90" stroke="#000" stroke-width="1.4"/>
<text x="568.40" y="695.86" font-size="11" font-weight="bold" text-anchor="end">0.0</text>
<line x1="572.40" y1="675.57" x2="575.40" y2="675.57" stroke="#000" stroke-width="1.2"/>
<line x1="569.90" y1="659.25" x2="575.40" y2="659.25" stroke="#000" stroke-width="1.4"/>
<text x="568.40" y="663.21" font-size="11" font-weight="bold" text-anchor="end">0.5</text>
<line x1="572.40" y1="642.92" x2="575.40" y2="642.92" stroke="#000" stroke-width="1.2"/>
<line x1="569.90" y1="626.60" x2="575.40" y2="626.60" stroke="#000" stroke-width="1.4"/>
<text x="568.40" y="630.56" font-size="11" font-weight="bold" text-anchor="end">1.0</text>
<line x1="572.40" y1="610.27" x2="575.40" y2="610.27" stroke="#000" stroke-width="1.2"/>
<line x1="569.90" y1="593.95" x2="575.40" y2="593.95" stroke="#000" stroke-width="1.4"/>
<text x="568.40" y="597.91" font-size="11" font-weight="bold" text-anchor="end">1.5</text>
<line x1="572.40" y1="577.62" x2="575.40" y2="577.62" stroke="#000" stroke-width="1.2"/>
<line x1="569.90" y1="561.30" x2="575.40" y2="561.30" stroke="#000" stroke-width="1.4"/>
<text x="568.40" y="565.26" font-size="11" font-weight="bold" text-anchor="end">2.0</text>
<rect x="588.90" y="656.04" width="22.60" height="35.86" fill="#7e7e7e" stroke="#000" stroke-width="2"/>
<rect x="626.20" y="619.01" width="22.40" height="72.89" fill="#eeb46f" stroke="#6a5434" stroke-width="2"/>
<line x1="600.20" y1="649.84" x2="600.20" y2="660.24" stroke="#000" stroke-width="1.4"/>
<line x1="594.20" y1="649.84" x2="606.20" y2="649.84" stroke="#000" stroke-width="1.4"/>
<line x1="594.20" y1="660.24" x2="606.20" y2="660.24" stroke="#000" stroke-width="1.4"/>
<line x1="637.40" y1="614.51" x2="637.40" y2="621.51" stroke="#6a5434" stroke-width="1.4"/>
<line x1="631.40" y1="614.51" x2="643.40" y2="614.51" stroke="#6a5434" stroke-width="1.4"/>
<line x1="631.40" y1="621.51" x2="643.40" y2="621.51" stroke="#6a5434" stroke-width="1.4"/>
<circle cx="600.10" cy="623.70" r="2.3" fill="#000"/>
<circle cx="600.10" cy="645.30" r="2.3" fill="#000"/>
<circle cx="600.10" cy="651.30" r="2.3" fill="#000"/>
<circle cx="592.20" cy="655.10" r="2.3" fill="#000"/>
<circle cx="607.90" cy="655.10" r="2.3" fill="#000"/>
<circle cx="600.10" cy="657.80" r="2.3" fill="#000"/>
<circle cx="607.90" cy="663.20" r="2.3" fill="#000"/>
<circle cx="600.10" cy="665.90" r="2.3" fill="#000"/>
<circle cx="600.10" cy="681.40" r="2.3" fill="#000"/>
<circle cx="637.50" cy="603.30" r="2.3" fill="#6d5b40"/>
<circle cx="629.60" cy="609.10" r="2.3" fill="#6d5b40"/>
<circle cx="637.50" cy="610.90" r="2.3" fill="#6d5b40"/>
<circle cx="629.60" cy="614.70" r="2.3" fill="#6d5b40"/>
<circle cx="645.30" cy="613.40" r="2.3" fill="#6d5b40"/>
<circle cx="637.50" cy="617.20" r="2.3" fill="#6d5b40"/>
<circle cx="629.60" cy="632.40" r="2.3" fill="#6d5b40"/>
<circle cx="637.50" cy="629.60" r="2.3" fill="#6d5b40"/>
<circle cx="645.30" cy="631.60" r="2.3" fill="#6d5b40"/>
<line x1="600.20" y1="691.90" x2="600.20" y2="696.90" stroke="#000" stroke-width="1.4"/>
<line x1="637.40" y1="691.90" x2="637.40" y2="696.90" stroke="#000" stroke-width="1.4"/>
<polyline points="600.20,596.00 600.20,587.60 637.40,587.60 637.40,596.00" stroke="#000" stroke-width="1.4" fill="none"/>
<text x="618.80" y="581.40" font-size="10.5" text-anchor="middle">&lt;0.0001</text>
<text x="600.20" y="709.00" font-size="10.6" font-weight="bold" text-anchor="middle">Vehicle</text>
<text x="637.40" y="709.00" font-size="10.6" font-weight="bold" text-anchor="middle">Rosi</text>
<text transform="translate(528.50,623.60) rotate(-90)" font-size="12" text-anchor="middle" fill="#000">NECTIN4 Expression</text>
<text transform="translate(544.20,623.60) rotate(-90)" font-size="12" text-anchor="middle" fill="#000">(Relative to Loading)</text>
<text x="16.50" y="761.00" font-size="19" font-weight="bold">j</text>
<line x1="53.10" y1="776.80" x2="53.10" y2="889.00" stroke="#000" stroke-width="1.2"/>
<line x1="52.60" y1="888.50" x2="165.20" y2="888.50" stroke="#000" stroke-width="1.2"/>
<line x1="49.10" y1="888.50" x2="53.10" y2="888.50" stroke="#000" stroke-width="1.1"/>
<text x="48.10" y="891.02" font-size="7" font-weight="bold" text-anchor="end">0.0</text>
<line x1="50.60" y1="871.95" x2="53.10" y2="871.95" stroke="#000" stroke-width="1.0"/>
<line x1="49.10" y1="855.40" x2="53.10" y2="855.40" stroke="#000" stroke-width="1.1"/>
<text x="48.10" y="857.92" font-size="7" font-weight="bold" text-anchor="end">0.5</text>
<line x1="50.60" y1="838.85" x2="53.10" y2="838.85" stroke="#000" stroke-width="1.0"/>
<line x1="49.10" y1="822.30" x2="53.10" y2="822.30" stroke="#000" stroke-width="1.1"/>
<text x="48.10" y="824.82" font-size="7" font-weight="bold" text-anchor="end">1.0</text>
<line x1="50.60" y1="805.75" x2="53.10" y2="805.75" stroke="#000" stroke-width="1.0"/>
<line x1="49.10" y1="789.20" x2="53.10" y2="789.20" stroke="#000" stroke-width="1.1"/>
<text x="48.10" y="791.72" font-size="7" font-weight="bold" text-anchor="end">1.5</text>
<line x1="53.10" y1="888.50" x2="53.10" y2="892.50" stroke="#000" stroke-width="1.1"/>
<text x="53.10" y="899.15" font-size="7" font-weight="bold" text-anchor="middle">0.0</text>
<line x1="71.70" y1="888.50" x2="71.70" y2="891.00" stroke="#000" stroke-width="1.0"/>
<line x1="90.30" y1="888.50" x2="90.30" y2="892.50" stroke="#000" stroke-width="1.1"/>
<text x="90.30" y="899.15" font-size="7" font-weight="bold" text-anchor="middle">0.5</text>
<line x1="108.90" y1="888.50" x2="108.90" y2="891.00" stroke="#000" stroke-width="1.0"/>
<line x1="127.50" y1="888.50" x2="127.50" y2="892.50" stroke="#000" stroke-width="1.1"/>
<text x="127.50" y="899.15" font-size="7" font-weight="bold" text-anchor="middle">1.0</text>
<line x1="146.10" y1="888.50" x2="146.10" y2="891.00" stroke="#000" stroke-width="1.0"/>
<line x1="164.70" y1="888.50" x2="164.70" y2="892.50" stroke="#000" stroke-width="1.1"/>
<text x="164.70" y="899.15" font-size="7" font-weight="bold" text-anchor="middle">1.5</text>
<line x1="61.00" y1="855.70" x2="155.00" y2="810.50" stroke="#222" stroke-width="0.8"/>
<circle cx="61.00" cy="877.70" r="2.2" fill="#000"/>
<circle cx="82.80" cy="819.70" r="2.2" fill="#000"/>
<circle cx="93.30" cy="841.20" r="2.2" fill="#000"/>
<circle cx="78.80" cy="854.40" r="2.2" fill="#000"/>
<circle cx="82.00" cy="862.20" r="2.2" fill="#000"/>
<circle cx="110.40" cy="851.70" r="2.2" fill="#000"/>
<circle cx="110.40" cy="859.10" r="2.2" fill="#000"/>
<circle cx="123.80" cy="851.70" r="2.2" fill="#000"/>
<circle cx="128.70" cy="847.30" r="2.2" fill="#000"/>
<circle cx="96.40" cy="805.20" r="2.2" fill="#efaa5e"/>
<circle cx="97.20" cy="807.00" r="2.2" fill="#efaa5e"/>
<circle cx="101.70" cy="825.40" r="2.2" fill="#efaa5e"/>
<circle cx="125.10" cy="799.10" r="2.2" fill="#efaa5e"/>
<circle cx="131.90" cy="809.10" r="2.2" fill="#efaa5e"/>
<circle cx="134.80" cy="813.30" r="2.2" fill="#efaa5e"/>
<circle cx="124.00" cy="828.30" r="2.2" fill="#efaa5e"/>
<circle cx="133.70" cy="827.50" r="2.2" fill="#efaa5e"/>
<circle cx="155.00" cy="810.50" r="2.2" fill="#efaa5e"/>
<text x="128.70" y="868.80" font-size="7.4">r&#160; = 0.50</text>
<text x="128.70" y="881.01" font-size="7.4">P = 0.04</text>
<circle cx="61.00" cy="781.30" r="2.2" fill="#000"/>
<text x="67.00" y="783.60" font-size="7.4">Vehicle</text>
<circle cx="61.00" cy="794.40" r="2.2" fill="#efaa5e"/>
<text x="67.00" y="796.90" font-size="7.4">Rosiglitazone</text>
<text x="109.00" y="911.40" font-size="8.3" text-anchor="middle">HPGD Expression</text>
<text x="109.00" y="921.40" font-size="8.3" text-anchor="middle">(Relative to Loading)</text>
<text transform="translate(24.00,833.50) rotate(-90)" font-size="8.3" text-anchor="middle" fill="#000">NECTIN4 Expression</text>
<text transform="translate(34.20,833.50) rotate(-90)" font-size="8.3" text-anchor="middle" fill="#000">(Relative to Loading)</text>
<text x="173.00" y="763.40" font-size="19" font-weight="bold">k</text>
<text x="228.60" y="763.40" font-size="13.3" font-style="italic">HT1197 tumor xenografts</text>
<line x1="190.00" y1="787.50" x2="200.00" y2="787.50" stroke="#000" stroke-width="0.9"/>
<circle cx="195.00" cy="787.50" r="1.5" fill="#000"/>
<text x="205.00" y="789.98" font-size="6.9">Vehicle + NTD T Cells (n=5)</text>
<line x1="190.00" y1="799.10" x2="200.00" y2="799.10" stroke="#eba865" stroke-width="0.9"/>
<circle cx="195.00" cy="799.10" r="1.5" fill="#eba865"/>
<text x="205.00" y="801.58" font-size="6.9">Rosi + NTD T Cells (n=7)</text>
<line x1="298.10" y1="787.50" x2="308.10" y2="787.50" stroke="#ff0000" stroke-width="0.9"/>
<circle cx="303.10" cy="787.50" r="1.5" fill="#ff0000"/>
<text x="313.00" y="789.98" font-size="6.9">Vehicle + NECTIN4-CAR T Cells (n=9)</text>
<line x1="298.10" y1="799.10" x2="308.10" y2="799.10" stroke="#0000ff" stroke-width="0.9"/>
<circle cx="303.10" cy="799.10" r="1.5" fill="#0000ff"/>
<text x="313.00" y="801.58" font-size="6.9">Rosi + NECTIN4-CAR T Cells (n=9)</text>
<line x1="238.90" y1="811.80" x2="238.90" y2="899.30" stroke="#000" stroke-width="1.3"/>
<line x1="238.40" y1="898.80" x2="368.20" y2="898.80" stroke="#000" stroke-width="1.3"/>
<line x1="234.90" y1="898.80" x2="238.90" y2="898.80" stroke="#000" stroke-width="1.0"/>
<text x="233.90" y="901.28" font-size="6.9" text-anchor="end">0</text>
<line x1="236.40" y1="884.38" x2="238.90" y2="884.38" stroke="#000" stroke-width="0.9"/>
<line x1="234.90" y1="869.97" x2="238.90" y2="869.97" stroke="#000" stroke-width="1.0"/>
<text x="233.90" y="872.45" font-size="6.9" text-anchor="end">500</text>
<line x1="236.40" y1="855.55" x2="238.90" y2="855.55" stroke="#000" stroke-width="0.9"/>
<line x1="234.90" y1="841.13" x2="238.90" y2="841.13" stroke="#000" stroke-width="1.0"/>
<text x="233.90" y="843.62" font-size="6.9" text-anchor="end">1000</text>
<line x1="236.40" y1="826.72" x2="238.90" y2="826.72" stroke="#000" stroke-width="0.9"/>
<line x1="234.90" y1="812.30" x2="238.90" y2="812.30" stroke="#000" stroke-width="1.0"/>
<text x="233.90" y="814.78" font-size="6.9" text-anchor="end">1500</text>
<line x1="244.70" y1="898.80" x2="244.70" y2="902.30" stroke="#000" stroke-width="1.0"/>
<text x="244.70" y="909.54" font-size="6.9" text-anchor="middle">1</text>
<line x1="254.66" y1="898.80" x2="254.66" y2="902.30" stroke="#000" stroke-width="1.0"/>
<text x="254.66" y="909.54" font-size="6.9" text-anchor="middle">7</text>
<line x1="264.62" y1="898.80" x2="264.62" y2="902.30" stroke="#000" stroke-width="1.0"/>
<text x="264.62" y="909.54" font-size="6.9" text-anchor="middle">14</text>
<line x1="274.58" y1="898.80" x2="274.58" y2="902.30" stroke="#000" stroke-width="1.0"/>
<text x="274.58" y="909.54" font-size="6.9" text-anchor="middle">21</text>
<line x1="284.54" y1="898.80" x2="284.54" y2="902.30" stroke="#000" stroke-width="1.0"/>
<text x="284.54" y="909.54" font-size="6.9" text-anchor="middle">27</text>
<line x1="294.50" y1="898.80" x2="294.50" y2="902.30" stroke="#000" stroke-width="1.0"/>
<text x="294.50" y="909.54" font-size="6.9" text-anchor="middle">35</text>
<line x1="304.46" y1="898.80" x2="304.46" y2="902.30" stroke="#000" stroke-width="1.0"/>
<text x="304.46" y="909.54" font-size="6.9" text-anchor="middle">41</text>
<line x1="314.42" y1="898.80" x2="314.42" y2="902.30" stroke="#000" stroke-width="1.0"/>
<text x="314.42" y="909.54" font-size="6.9" text-anchor="middle">48</text>
<line x1="324.38" y1="898.80" x2="324.38" y2="902.30" stroke="#000" stroke-width="1.0"/>
<text x="324.38" y="909.54" font-size="6.9" text-anchor="middle">55</text>
<line x1="334.34" y1="898.80" x2="334.34" y2="902.30" stroke="#000" stroke-width="1.0"/>
<text x="334.34" y="909.54" font-size="6.9" text-anchor="middle">63</text>
<line x1="344.30" y1="898.80" x2="344.30" y2="902.30" stroke="#000" stroke-width="1.0"/>
<text x="344.30" y="909.54" font-size="6.9" text-anchor="middle">68</text>
<line x1="354.26" y1="898.80" x2="354.26" y2="902.30" stroke="#000" stroke-width="1.0"/>
<text x="354.26" y="909.54" font-size="6.9" text-anchor="middle">75</text>
<line x1="364.22" y1="898.80" x2="364.22" y2="902.30" stroke="#000" stroke-width="1.0"/>
<text x="364.22" y="909.54" font-size="6.9" text-anchor="middle">82</text>
<line x1="244.70" y1="894.61" x2="244.70" y2="895.61" stroke="#2a2aff" stroke-width="0.8"/>
<line x1="242.40" y1="894.61" x2="247.00" y2="894.61" stroke="#2a2aff" stroke-width="0.8"/>
<line x1="242.40" y1="895.61" x2="247.00" y2="895.61" stroke="#2a2aff" stroke-width="0.8"/>
<line x1="254.66" y1="892.77" x2="254.66" y2="893.77" stroke="#2a2aff" stroke-width="0.8"/>
<line x1="252.36" y1="892.77" x2="256.96" y2="892.77" stroke="#2a2aff" stroke-width="0.8"/>
<line x1="252.36" y1="893.77" x2="256.96" y2="893.77" stroke="#2a2aff" stroke-width="0.8"/>
<line x1="264.62" y1="891.49" x2="264.62" y2="893.49" stroke="#2a2aff" stroke-width="0.8"/>
<line x1="262.32" y1="891.49" x2="266.92" y2="891.49" stroke="#2a2aff" stroke-width="0.8"/>
<line x1="262.32" y1="893.49" x2="266.92" y2="893.49" stroke="#2a2aff" stroke-width="0.8"/>
<line x1="274.58" y1="890.96" x2="274.58" y2="892.96" stroke="#2a2aff" stroke-width="0.8"/>
<line x1="272.28" y1="890.96" x2="276.88" y2="890.96" stroke="#2a2aff" stroke-width="0.8"/>
<line x1="272.28" y1="892.96" x2="276.88" y2="892.96" stroke="#2a2aff" stroke-width="0.8"/>
<line x1="284.54" y1="890.96" x2="284.54" y2="892.96" stroke="#2a2aff" stroke-width="0.8"/>
<line x1="282.24" y1="890.96" x2="286.84" y2="890.96" stroke="#2a2aff" stroke-width="0.8"/>
<line x1="282.24" y1="892.96" x2="286.84" y2="892.96" stroke="#2a2aff" stroke-width="0.8"/>
<line x1="294.50" y1="890.70" x2="294.50" y2="892.70" stroke="#2a2aff" stroke-width="0.8"/>
<line x1="292.20" y1="890.70" x2="296.80" y2="890.70" stroke="#2a2aff" stroke-width="0.8"/>
<line x1="292.20" y1="892.70" x2="296.80" y2="892.70" stroke="#2a2aff" stroke-width="0.8"/>
<line x1="304.46" y1="889.12" x2="304.46" y2="891.12" stroke="#2a2aff" stroke-width="0.8"/>
<line x1="302.16" y1="889.12" x2="306.76" y2="889.12" stroke="#2a2aff" stroke-width="0.8"/>
<line x1="302.16" y1="891.12" x2="306.76" y2="891.12" stroke="#2a2aff" stroke-width="0.8"/>
<line x1="314.42" y1="889.65" x2="314.42" y2="891.65" stroke="#2a2aff" stroke-width="0.8"/>
<line x1="312.12" y1="889.65" x2="316.72" y2="889.65" stroke="#2a2aff" stroke-width="0.8"/>
<line x1="312.12" y1="891.65" x2="316.72" y2="891.65" stroke="#2a2aff" stroke-width="0.8"/>
<line x1="324.38" y1="887.83" x2="324.38" y2="890.83" stroke="#2a2aff" stroke-width="0.8"/>
<line x1="322.08" y1="887.83" x2="326.68" y2="887.83" stroke="#2a2aff" stroke-width="0.8"/>
<line x1="322.08" y1="890.83" x2="326.68" y2="890.83" stroke="#2a2aff" stroke-width="0.8"/>
<line x1="334.34" y1="884.18" x2="334.34" y2="888.18" stroke="#2a2aff" stroke-width="0.8"/>
<line x1="332.04" y1="884.18" x2="336.64" y2="884.18" stroke="#2a2aff" stroke-width="0.8"/>
<line x1="332.04" y1="888.18" x2="336.64" y2="888.18" stroke="#2a2aff" stroke-width="0.8"/>
<line x1="344.30" y1="883.15" x2="344.30" y2="888.15" stroke="#2a2aff" stroke-width="0.8"/>
<line x1="342.00" y1="883.15" x2="346.60" y2="883.15" stroke="#2a2aff" stroke-width="0.8"/>
<line x1="342.00" y1="888.15" x2="346.60" y2="888.15" stroke="#2a2aff" stroke-width="0.8"/>
<line x1="354.26" y1="880.88" x2="354.26" y2="887.28" stroke="#2a2aff" stroke-width="0.8"/>
<line x1="351.96" y1="880.88" x2="356.56" y2="880.88" stroke="#2a2aff" stroke-width="0.8"/>
<line x1="351.96" y1="887.28" x2="356.56" y2="887.28" stroke="#2a2aff" stroke-width="0.8"/>
<line x1="364.22" y1="877.45" x2="364.22" y2="885.45" stroke="#2a2aff" stroke-width="0.8"/>
<line x1="361.92" y1="877.45" x2="366.52" y2="877.45" stroke="#2a2aff" stroke-width="0.8"/>
<line x1="361.92" y1="885.45" x2="366.52" y2="885.45" stroke="#2a2aff" stroke-width="0.8"/>
<polyline points="244.70,895.11 254.66,893.27 264.62,892.49 274.58,891.96 284.54,891.96 294.50,891.70 304.46,890.12 314.42,890.65 324.38,889.33 334.34,886.18 344.30,885.65 354.26,884.08 364.22,881.45" stroke="#0000ff" stroke-width="0.8" fill="none"/>
<circle cx="244.70" cy="895.11" r="1.75" fill="#0000ff"/>
<circle cx="254.66" cy="893.27" r="1.75" fill="#0000ff"/>
<circle cx="264.62" cy="892.49" r="1.75" fill="#0000ff"/>
<circle cx="274.58" cy="891.96" r="1.75" fill="#0000ff"/>
<circle cx="284.54" cy="891.96" r="1.75" fill="#0000ff"/>
<circle cx="294.50" cy="891.70" r="1.75" fill="#0000ff"/>
<circle cx="304.46" cy="890.12" r="1.75" fill="#0000ff"/>
<circle cx="314.42" cy="890.65" r="1.75" fill="#0000ff"/>
<circle cx="324.38" cy="889.33" r="1.75" fill="#0000ff"/>
<circle cx="334.34" cy="886.18" r="1.75" fill="#0000ff"/>
<circle cx="344.30" cy="885.65" r="1.75" fill="#0000ff"/>
<circle cx="354.26" cy="884.08" r="1.75" fill="#0000ff"/>
<circle cx="364.22" cy="881.45" r="1.75" fill="#0000ff"/>
<line x1="244.70" y1="895.40" x2="244.70" y2="896.40" stroke="#ff4848" stroke-width="0.8"/>
<line x1="242.40" y1="895.40" x2="247.00" y2="895.40" stroke="#ff4848" stroke-width="0.8"/>
<line x1="242.40" y1="896.40" x2="247.00" y2="896.40" stroke="#ff4848" stroke-width="0.8"/>
<line x1="254.66" y1="892.77" x2="254.66" y2="893.77" stroke="#ff4848" stroke-width="0.8"/>
<line x1="252.36" y1="892.77" x2="256.96" y2="892.77" stroke="#ff4848" stroke-width="0.8"/>
<line x1="252.36" y1="893.77" x2="256.96" y2="893.77" stroke="#ff4848" stroke-width="0.8"/>
<line x1="264.62" y1="889.65" x2="264.62" y2="891.65" stroke="#ff4848" stroke-width="0.8"/>
<line x1="262.32" y1="889.65" x2="266.92" y2="889.65" stroke="#ff4848" stroke-width="0.8"/>
<line x1="262.32" y1="891.65" x2="266.92" y2="891.65" stroke="#ff4848" stroke-width="0.8"/>
<line x1="274.58" y1="888.86" x2="274.58" y2="890.86" stroke="#ff4848" stroke-width="0.8"/>
<line x1="272.28" y1="888.86" x2="276.88" y2="888.86" stroke="#ff4848" stroke-width="0.8"/>
<line x1="272.28" y1="890.86" x2="276.88" y2="890.86" stroke="#ff4848" stroke-width="0.8"/>
<line x1="284.54" y1="887.81" x2="284.54" y2="889.81" stroke="#ff4848" stroke-width="0.8"/>
<line x1="282.24" y1="887.81" x2="286.84" y2="887.81" stroke="#ff4848" stroke-width="0.8"/>
<line x1="282.24" y1="889.81" x2="286.84" y2="889.81" stroke="#ff4848" stroke-width="0.8"/>
<line x1="294.50" y1="886.49" x2="294.50" y2="888.49" stroke="#ff4848" stroke-width="0.8"/>
<line x1="292.20" y1="886.49" x2="296.80" y2="886.49" stroke="#ff4848" stroke-width="0.8"/>
<line x1="292.20" y1="888.49" x2="296.80" y2="888.49" stroke="#ff4848" stroke-width="0.8"/>
<line x1="304.46" y1="885.18" x2="304.46" y2="887.18" stroke="#ff4848" stroke-width="0.8"/>
<line x1="302.16" y1="885.18" x2="306.76" y2="885.18" stroke="#ff4848" stroke-width="0.8"/>
<line x1="302.16" y1="887.18" x2="306.76" y2="887.18" stroke="#ff4848" stroke-width="0.8"/>
<line x1="314.42" y1="882.58" x2="314.42" y2="885.58" stroke="#ff4848" stroke-width="0.8"/>
<line x1="312.12" y1="882.58" x2="316.72" y2="882.58" stroke="#ff4848" stroke-width="0.8"/>
<line x1="312.12" y1="885.58" x2="316.72" y2="885.58" stroke="#ff4848" stroke-width="0.8"/>
<line x1="324.38" y1="879.45" x2="324.38" y2="883.45" stroke="#ff4848" stroke-width="0.8"/>
<line x1="322.08" y1="879.45" x2="326.68" y2="879.45" stroke="#ff4848" stroke-width="0.8"/>
<line x1="322.08" y1="883.45" x2="326.68" y2="883.45" stroke="#ff4848" stroke-width="0.8"/>
<line x1="334.34" y1="875.30" x2="334.34" y2="881.30" stroke="#ff4848" stroke-width="0.8"/>
<line x1="332.04" y1="875.30" x2="336.64" y2="875.30" stroke="#ff4848" stroke-width="0.8"/>
<line x1="332.04" y1="881.30" x2="336.64" y2="881.30" stroke="#ff4848" stroke-width="0.8"/>
<line x1="344.30" y1="873.98" x2="344.30" y2="879.98" stroke="#ff4848" stroke-width="0.8"/>
<line x1="342.00" y1="873.98" x2="346.60" y2="873.98" stroke="#ff4848" stroke-width="0.8"/>
<line x1="342.00" y1="879.98" x2="346.60" y2="879.98" stroke="#ff4848" stroke-width="0.8"/>
<line x1="354.26" y1="864.94" x2="354.26" y2="876.94" stroke="#ff4848" stroke-width="0.8"/>
<line x1="351.96" y1="864.94" x2="356.56" y2="864.94" stroke="#ff4848" stroke-width="0.8"/>
<line x1="351.96" y1="876.94" x2="356.56" y2="876.94" stroke="#ff4848" stroke-width="0.8"/>
<line x1="364.22" y1="860.50" x2="364.22" y2="873.50" stroke="#ff4848" stroke-width="0.8"/>
<line x1="361.92" y1="860.50" x2="366.52" y2="860.50" stroke="#ff4848" stroke-width="0.8"/>
<line x1="361.92" y1="873.50" x2="366.52" y2="873.50" stroke="#ff4848" stroke-width="0.8"/>
<polyline points="244.70,895.90 254.66,893.27 264.62,890.65 274.58,889.86 284.54,888.81 294.50,887.49 304.46,886.18 314.42,884.08 324.38,881.45 334.34,878.30 344.30,876.98 354.26,870.94 364.22,867.00" stroke="#ff0000" stroke-width="0.8" fill="none"/>
<circle cx="244.70" cy="895.90" r="1.75" fill="#ff0000"/>
<circle cx="254.66" cy="893.27" r="1.75" fill="#ff0000"/>
<circle cx="264.62" cy="890.65" r="1.75" fill="#ff0000"/>
<circle cx="274.58" cy="889.86" r="1.75" fill="#ff0000"/>
<circle cx="284.54" cy="888.81" r="1.75" fill="#ff0000"/>
<circle cx="294.50" cy="887.49" r="1.75" fill="#ff0000"/>
<circle cx="304.46" cy="886.18" r="1.75" fill="#ff0000"/>
<circle cx="314.42" cy="884.08" r="1.75" fill="#ff0000"/>
<circle cx="324.38" cy="881.45" r="1.75" fill="#ff0000"/>
<circle cx="334.34" cy="878.30" r="1.75" fill="#ff0000"/>
<circle cx="344.30" cy="876.98" r="1.75" fill="#ff0000"/>
<circle cx="354.26" cy="870.94" r="1.75" fill="#ff0000"/>
<circle cx="364.22" cy="867.00" r="1.75" fill="#ff0000"/>
<line x1="244.70" y1="894.61" x2="244.70" y2="895.61" stroke="#eba865" stroke-width="0.8"/>
<line x1="242.40" y1="894.61" x2="247.00" y2="894.61" stroke="#eba865" stroke-width="0.8"/>
<line x1="242.40" y1="895.61" x2="247.00" y2="895.61" stroke="#eba865" stroke-width="0.8"/>
<line x1="254.66" y1="892.77" x2="254.66" y2="893.77" stroke="#eba865" stroke-width="0.8"/>
<line x1="252.36" y1="892.77" x2="256.96" y2="892.77" stroke="#eba865" stroke-width="0.8"/>
<line x1="252.36" y1="893.77" x2="256.96" y2="893.77" stroke="#eba865" stroke-width="0.8"/>
<line x1="264.62" y1="889.65" x2="264.62" y2="891.65" stroke="#eba865" stroke-width="0.8"/>
<line x1="262.32" y1="889.65" x2="266.92" y2="889.65" stroke="#eba865" stroke-width="0.8"/>
<line x1="262.32" y1="891.65" x2="266.92" y2="891.65" stroke="#eba865" stroke-width="0.8"/>
<line x1="274.58" y1="888.33" x2="274.58" y2="890.33" stroke="#eba865" stroke-width="0.8"/>
<line x1="272.28" y1="888.33" x2="276.88" y2="888.33" stroke="#eba865" stroke-width="0.8"/>
<line x1="272.28" y1="890.33" x2="276.88" y2="890.33" stroke="#eba865" stroke-width="0.8"/>
<line x1="284.54" y1="887.28" x2="284.54" y2="889.28" stroke="#eba865" stroke-width="0.8"/>
<line x1="282.24" y1="887.28" x2="286.84" y2="887.28" stroke="#eba865" stroke-width="0.8"/>
<line x1="282.24" y1="889.28" x2="286.84" y2="889.28" stroke="#eba865" stroke-width="0.8"/>
<line x1="294.50" y1="885.97" x2="294.50" y2="887.97" stroke="#eba865" stroke-width="0.8"/>
<line x1="292.20" y1="885.97" x2="296.80" y2="885.97" stroke="#eba865" stroke-width="0.8"/>
<line x1="292.20" y1="887.97" x2="296.80" y2="887.97" stroke="#eba865" stroke-width="0.8"/>
<line x1="304.46" y1="884.92" x2="304.46" y2="886.92" stroke="#eba865" stroke-width="0.8"/>
<line x1="302.16" y1="884.92" x2="306.76" y2="884.92" stroke="#eba865" stroke-width="0.8"/>
<line x1="302.16" y1="886.92" x2="306.76" y2="886.92" stroke="#eba865" stroke-width="0.8"/>
<line x1="314.42" y1="880.74" x2="314.42" y2="883.74" stroke="#eba865" stroke-width="0.8"/>
<line x1="312.12" y1="880.74" x2="316.72" y2="880.74" stroke="#eba865" stroke-width="0.8"/>
<line x1="312.12" y1="883.74" x2="316.72" y2="883.74" stroke="#eba865" stroke-width="0.8"/>
<line x1="324.38" y1="876.30" x2="324.38" y2="880.30" stroke="#eba865" stroke-width="0.8"/>
<line x1="322.08" y1="876.30" x2="326.68" y2="876.30" stroke="#eba865" stroke-width="0.8"/>
<line x1="322.08" y1="880.30" x2="326.68" y2="880.30" stroke="#eba865" stroke-width="0.8"/>
<line x1="334.34" y1="871.09" x2="334.34" y2="877.09" stroke="#eba865" stroke-width="0.8"/>
<line x1="332.04" y1="871.09" x2="336.64" y2="871.09" stroke="#eba865" stroke-width="0.8"/>
<line x1="332.04" y1="877.09" x2="336.64" y2="877.09" stroke="#eba865" stroke-width="0.8"/>
<line x1="344.30" y1="867.94" x2="344.30" y2="873.94" stroke="#eba865" stroke-width="0.8"/>
<line x1="342.00" y1="867.94" x2="346.60" y2="867.94" stroke="#eba865" stroke-width="0.8"/>
<line x1="342.00" y1="873.94" x2="346.60" y2="873.94" stroke="#eba865" stroke-width="0.8"/>
<line x1="354.26" y1="855.27" x2="354.26" y2="869.27" stroke="#eba865" stroke-width="0.8"/>
<line x1="351.96" y1="855.27" x2="356.56" y2="855.27" stroke="#eba865" stroke-width="0.8"/>
<line x1="351.96" y1="869.27" x2="356.56" y2="869.27" stroke="#eba865" stroke-width="0.8"/>
<line x1="364.22" y1="844.39" x2="364.22" y2="864.39" stroke="#eba865" stroke-width="0.8"/>
<line x1="361.92" y1="844.39" x2="366.52" y2="844.39" stroke="#eba865" stroke-width="0.8"/>
<line x1="361.92" y1="864.39" x2="366.52" y2="864.39" stroke="#eba865" stroke-width="0.8"/>
<polyline points="244.70,895.11 254.66,893.27 264.62,890.65 274.58,889.33 284.54,888.28 294.50,886.97 304.46,885.92 314.42,882.24 324.38,878.30 334.34,874.09 344.30,870.94 354.26,862.27 364.22,854.39" stroke="#eba865" stroke-width="0.8" fill="none"/>
<circle cx="244.70" cy="895.11" r="1.75" fill="#eba865"/>
<circle cx="254.66" cy="893.27" r="1.75" fill="#eba865"/>
<circle cx="264.62" cy="890.65" r="1.75" fill="#eba865"/>
<circle cx="274.58" cy="889.33" r="1.75" fill="#eba865"/>
<circle cx="284.54" cy="888.28" r="1.75" fill="#eba865"/>
<circle cx="294.50" cy="886.97" r="1.75" fill="#eba865"/>
<circle cx="304.46" cy="885.92" r="1.75" fill="#eba865"/>
<circle cx="314.42" cy="882.24" r="1.75" fill="#eba865"/>
<circle cx="324.38" cy="878.30" r="1.75" fill="#eba865"/>
<circle cx="334.34" cy="874.09" r="1.75" fill="#eba865"/>
<circle cx="344.30" cy="870.94" r="1.75" fill="#eba865"/>
<circle cx="354.26" cy="862.27" r="1.75" fill="#eba865"/>
<circle cx="364.22" cy="854.39" r="1.75" fill="#eba865"/>
<line x1="244.70" y1="893.06" x2="244.70" y2="895.06" stroke="#222" stroke-width="0.8"/>
<line x1="242.40" y1="893.06" x2="247.00" y2="893.06" stroke="#222" stroke-width="0.8"/>
<line x1="242.40" y1="895.06" x2="247.00" y2="895.06" stroke="#222" stroke-width="0.8"/>
<line x1="254.66" y1="890.43" x2="254.66" y2="892.43" stroke="#222" stroke-width="0.8"/>
<line x1="252.36" y1="890.43" x2="256.96" y2="890.43" stroke="#222" stroke-width="0.8"/>
<line x1="252.36" y1="892.43" x2="256.96" y2="892.43" stroke="#222" stroke-width="0.8"/>
<line x1="264.62" y1="886.52" x2="264.62" y2="889.52" stroke="#222" stroke-width="0.8"/>
<line x1="262.32" y1="886.52" x2="266.92" y2="886.52" stroke="#222" stroke-width="0.8"/>
<line x1="262.32" y1="889.52" x2="266.92" y2="889.52" stroke="#222" stroke-width="0.8"/>
<line x1="274.58" y1="883.39" x2="274.58" y2="887.39" stroke="#222" stroke-width="0.8"/>
<line x1="272.28" y1="883.39" x2="276.88" y2="883.39" stroke="#222" stroke-width="0.8"/>
<line x1="272.28" y1="887.39" x2="276.88" y2="887.39" stroke="#222" stroke-width="0.8"/>
<line x1="284.54" y1="879.24" x2="284.54" y2="885.24" stroke="#222" stroke-width="0.8"/>
<line x1="282.24" y1="879.24" x2="286.84" y2="879.24" stroke="#222" stroke-width="0.8"/>
<line x1="282.24" y1="885.24" x2="286.84" y2="885.24" stroke="#222" stroke-width="0.8"/>
<line x1="294.50" y1="876.61" x2="294.50" y2="882.61" stroke="#222" stroke-width="0.8"/>
<line x1="292.20" y1="876.61" x2="296.80" y2="876.61" stroke="#222" stroke-width="0.8"/>
<line x1="292.20" y1="882.61" x2="296.80" y2="882.61" stroke="#222" stroke-width="0.8"/>
<line x1="304.46" y1="874.51" x2="304.46" y2="880.51" stroke="#222" stroke-width="0.8"/>
<line x1="302.16" y1="874.51" x2="306.76" y2="874.51" stroke="#222" stroke-width="0.8"/>
<line x1="302.16" y1="880.51" x2="306.76" y2="880.51" stroke="#222" stroke-width="0.8"/>
<line x1="314.42" y1="867.13" x2="314.42" y2="872.13" stroke="#222" stroke-width="0.8"/>
<line x1="312.12" y1="867.13" x2="316.72" y2="867.13" stroke="#222" stroke-width="0.8"/>
<line x1="312.12" y1="872.13" x2="316.72" y2="872.13" stroke="#222" stroke-width="0.8"/>
<line x1="324.38" y1="862.16" x2="324.38" y2="868.16" stroke="#222" stroke-width="0.8"/>
<line x1="322.08" y1="862.16" x2="326.68" y2="862.16" stroke="#222" stroke-width="0.8"/>
<line x1="322.08" y1="868.16" x2="326.68" y2="868.16" stroke="#222" stroke-width="0.8"/>
<line x1="334.34" y1="856.12" x2="334.34" y2="862.12" stroke="#222" stroke-width="0.8"/>
<line x1="332.04" y1="856.12" x2="336.64" y2="856.12" stroke="#222" stroke-width="0.8"/>
<line x1="332.04" y1="862.12" x2="336.64" y2="862.12" stroke="#222" stroke-width="0.8"/>
<line x1="344.30" y1="848.55" x2="344.30" y2="856.55" stroke="#222" stroke-width="0.8"/>
<line x1="342.00" y1="848.55" x2="346.60" y2="848.55" stroke="#222" stroke-width="0.8"/>
<line x1="342.00" y1="856.55" x2="346.60" y2="856.55" stroke="#222" stroke-width="0.8"/>
<line x1="354.26" y1="840.17" x2="354.26" y2="849.17" stroke="#222" stroke-width="0.8"/>
<line x1="351.96" y1="840.17" x2="356.56" y2="840.17" stroke="#222" stroke-width="0.8"/>
<line x1="351.96" y1="849.17" x2="356.56" y2="849.17" stroke="#222" stroke-width="0.8"/>
<line x1="364.22" y1="830.47" x2="364.22" y2="840.47" stroke="#222" stroke-width="0.8"/>
<line x1="361.92" y1="830.47" x2="366.52" y2="830.47" stroke="#222" stroke-width="0.8"/>
<line x1="361.92" y1="840.47" x2="366.52" y2="840.47" stroke="#222" stroke-width="0.8"/>
<polyline points="244.70,894.06 254.66,891.43 264.62,888.02 274.58,885.39 284.54,882.24 294.50,879.61 304.46,877.51 314.42,869.63 324.38,865.16 334.34,859.12 344.30,852.55 354.26,844.67 364.22,835.47" stroke="#000" stroke-width="0.8" fill="none"/>
<circle cx="244.70" cy="894.06" r="1.75" fill="#000"/>
<circle cx="254.66" cy="891.43" r="1.75" fill="#000"/>
<circle cx="264.62" cy="888.02" r="1.75" fill="#000"/>
<circle cx="274.58" cy="885.39" r="1.75" fill="#000"/>
<circle cx="284.54" cy="882.24" r="1.75" fill="#000"/>
<circle cx="294.50" cy="879.61" r="1.75" fill="#000"/>
<circle cx="304.46" cy="877.51" r="1.75" fill="#000"/>
<circle cx="314.42" cy="869.63" r="1.75" fill="#000"/>
<circle cx="324.38" cy="865.16" r="1.75" fill="#000"/>
<circle cx="334.34" cy="859.12" r="1.75" fill="#000"/>
<circle cx="344.30" cy="852.55" r="1.75" fill="#000"/>
<circle cx="354.26" cy="844.67" r="1.75" fill="#000"/>
<circle cx="364.22" cy="835.47" r="1.75" fill="#000"/>
<text x="304.40" y="919.50" font-size="8.2" text-anchor="middle">Days post IV CAR T Cell Injection</text>
<text transform="translate(216.50,856.00) rotate(-90)" font-size="8.2" text-anchor="middle" fill="#000">Tumor Volume (mm<tspan font-size="5.3" dy="-3.3">3</tspan><tspan dy="3.3">)</tspan></text>
<text x="368.80" y="846.00" font-size="7.0" font-weight="bold">***</text>
<text x="354.20" y="896.80" font-size="7.0" font-weight="bold" text-anchor="middle">*</text>
<text x="364.20" y="893.80" font-size="7.0" font-weight="bold" text-anchor="middle">**</text>
<text x="432.50" y="762.90" font-size="19" font-weight="bold">l</text>
<text x="487.70" y="762.40" font-size="13.3" font-style="italic">HT1197 tumor xenografts</text>
<line x1="444.40" y1="787.40" x2="454.40" y2="787.40" stroke="#000" stroke-width="0.9"/>
<circle cx="449.40" cy="787.40" r="1.5" fill="#000"/>
<text x="458.90" y="789.88" font-size="6.9">Vehicle + NTD T Cells (n=5)</text>
<line x1="444.40" y1="799.20" x2="454.40" y2="799.20" stroke="#eba865" stroke-width="0.9"/>
<circle cx="449.40" cy="799.20" r="1.5" fill="#eba865"/>
<text x="458.90" y="801.68" font-size="6.9">Rosi + NTD T Cells (n=7)</text>
<line x1="552.20" y1="787.40" x2="562.20" y2="787.40" stroke="#ff0000" stroke-width="0.9"/>
<circle cx="557.20" cy="787.40" r="1.5" fill="#ff0000"/>
<text x="567.10" y="789.88" font-size="6.9">Vehicle + NECTIN4-CAR T Cells (n=9)</text>
<line x1="552.20" y1="799.20" x2="562.20" y2="799.20" stroke="#0000ff" stroke-width="0.9"/>
<circle cx="557.20" cy="799.20" r="1.5" fill="#0000ff"/>
<text x="567.10" y="801.68" font-size="6.9">Rosi+ NECTIN4-CAR T Cells (n=9)</text>
<line x1="492.80" y1="811.30" x2="492.80" y2="899.00" stroke="#000" stroke-width="1.3"/>
<line x1="492.30" y1="898.50" x2="622.40" y2="898.50" stroke="#000" stroke-width="1.3"/>
<line x1="488.80" y1="898.50" x2="492.80" y2="898.50" stroke="#000" stroke-width="1.0"/>
<text x="487.80" y="900.98" font-size="6.9" text-anchor="end">20</text>
<line x1="490.30" y1="887.66" x2="492.80" y2="887.66" stroke="#000" stroke-width="0.9"/>
<line x1="488.80" y1="876.83" x2="492.80" y2="876.83" stroke="#000" stroke-width="1.0"/>
<text x="487.80" y="879.31" font-size="6.9" text-anchor="end">25</text>
<line x1="490.30" y1="865.99" x2="492.80" y2="865.99" stroke="#000" stroke-width="0.9"/>
<line x1="488.80" y1="855.15" x2="492.80" y2="855.15" stroke="#000" stroke-width="1.0"/>
<text x="487.80" y="857.63" font-size="6.9" text-anchor="end">30</text>
<line x1="490.30" y1="844.31" x2="492.80" y2="844.31" stroke="#000" stroke-width="0.9"/>
<line x1="488.80" y1="833.48" x2="492.80" y2="833.48" stroke="#000" stroke-width="1.0"/>
<text x="487.80" y="835.96" font-size="6.9" text-anchor="end">35</text>
<line x1="490.30" y1="822.64" x2="492.80" y2="822.64" stroke="#000" stroke-width="0.9"/>
<line x1="488.80" y1="811.80" x2="492.80" y2="811.80" stroke="#000" stroke-width="1.0"/>
<text x="487.80" y="814.28" font-size="6.9" text-anchor="end">40</text>
<line x1="498.60" y1="898.50" x2="498.60" y2="902.00" stroke="#000" stroke-width="1.0"/>
<text x="498.60" y="909.25" font-size="6.9" text-anchor="middle">1</text>
<line x1="508.52" y1="898.50" x2="508.52" y2="902.00" stroke="#000" stroke-width="1.0"/>
<text x="508.52" y="909.25" font-size="6.9" text-anchor="middle">7</text>
<line x1="518.44" y1="898.50" x2="518.44" y2="902.00" stroke="#000" stroke-width="1.0"/>
<text x="518.44" y="909.25" font-size="6.9" text-anchor="middle">14</text>
<line x1="528.36" y1="898.50" x2="528.36" y2="902.00" stroke="#000" stroke-width="1.0"/>
<text x="528.36" y="909.25" font-size="6.9" text-anchor="middle">21</text>
<line x1="538.28" y1="898.50" x2="538.28" y2="902.00" stroke="#000" stroke-width="1.0"/>
<text x="538.28" y="909.25" font-size="6.9" text-anchor="middle">27</text>
<line x1="548.20" y1="898.50" x2="548.20" y2="902.00" stroke="#000" stroke-width="1.0"/>
<text x="548.20" y="909.25" font-size="6.9" text-anchor="middle">35</text>
<line x1="558.12" y1="898.50" x2="558.12" y2="902.00" stroke="#000" stroke-width="1.0"/>
<text x="558.12" y="909.25" font-size="6.9" text-anchor="middle">41</text>
<line x1="568.04" y1="898.50" x2="568.04" y2="902.00" stroke="#000" stroke-width="1.0"/>
<text x="568.04" y="909.25" font-size="6.9" text-anchor="middle">48</text>
<line x1="577.96" y1="898.50" x2="577.96" y2="902.00" stroke="#000" stroke-width="1.0"/>
<text x="577.96" y="909.25" font-size="6.9" text-anchor="middle">55</text>
<line x1="587.88" y1="898.50" x2="587.88" y2="902.00" stroke="#000" stroke-width="1.0"/>
<text x="587.88" y="909.25" font-size="6.9" text-anchor="middle">63</text>
<line x1="597.80" y1="898.50" x2="597.80" y2="902.00" stroke="#000" stroke-width="1.0"/>
<text x="597.80" y="909.25" font-size="6.9" text-anchor="middle">68</text>
<line x1="607.72" y1="898.50" x2="607.72" y2="902.00" stroke="#000" stroke-width="1.0"/>
<text x="607.72" y="909.25" font-size="6.9" text-anchor="middle">75</text>
<line x1="617.64" y1="898.50" x2="617.64" y2="902.00" stroke="#000" stroke-width="1.0"/>
<text x="617.64" y="909.25" font-size="6.9" text-anchor="middle">82</text>
<line x1="498.60" y1="871.88" x2="498.60" y2="877.88" stroke="#2a2aff" stroke-width="0.8"/>
<line x1="496.30" y1="871.88" x2="500.90" y2="871.88" stroke="#2a2aff" stroke-width="0.8"/>
<line x1="496.30" y1="877.88" x2="500.90" y2="877.88" stroke="#2a2aff" stroke-width="0.8"/>
<line x1="508.52" y1="864.79" x2="508.52" y2="870.79" stroke="#2a2aff" stroke-width="0.8"/>
<line x1="506.22" y1="864.79" x2="510.82" y2="864.79" stroke="#2a2aff" stroke-width="0.8"/>
<line x1="506.22" y1="870.79" x2="510.82" y2="870.79" stroke="#2a2aff" stroke-width="0.8"/>
<line x1="518.44" y1="864.52" x2="518.44" y2="870.52" stroke="#2a2aff" stroke-width="0.8"/>
<line x1="516.14" y1="864.52" x2="520.74" y2="864.52" stroke="#2a2aff" stroke-width="0.8"/>
<line x1="516.14" y1="870.52" x2="520.74" y2="870.52" stroke="#2a2aff" stroke-width="0.8"/>
<line x1="528.36" y1="868.94" x2="528.36" y2="872.94" stroke="#2a2aff" stroke-width="0.8"/>
<line x1="526.06" y1="868.94" x2="530.66" y2="868.94" stroke="#2a2aff" stroke-width="0.8"/>
<line x1="526.06" y1="872.94" x2="530.66" y2="872.94" stroke="#2a2aff" stroke-width="0.8"/>
<line x1="538.28" y1="860.06" x2="538.28" y2="866.06" stroke="#2a2aff" stroke-width="0.8"/>
<line x1="535.98" y1="860.06" x2="540.58" y2="860.06" stroke="#2a2aff" stroke-width="0.8"/>
<line x1="535.98" y1="866.06" x2="540.58" y2="866.06" stroke="#2a2aff" stroke-width="0.8"/>
<line x1="548.20" y1="865.84" x2="548.20" y2="871.84" stroke="#2a2aff" stroke-width="0.8"/>
<line x1="545.90" y1="865.84" x2="550.50" y2="865.84" stroke="#2a2aff" stroke-width="0.8"/>
<line x1="545.90" y1="871.84" x2="550.50" y2="871.84" stroke="#2a2aff" stroke-width="0.8"/>
<line x1="558.12" y1="862.16" x2="558.12" y2="868.16" stroke="#2a2aff" stroke-width="0.8"/>
<line x1="555.82" y1="862.16" x2="560.42" y2="862.16" stroke="#2a2aff" stroke-width="0.8"/>
<line x1="555.82" y1="868.16" x2="560.42" y2="868.16" stroke="#2a2aff" stroke-width="0.8"/>
<line x1="568.04" y1="858.22" x2="568.04" y2="864.22" stroke="#2a2aff" stroke-width="0.8"/>
<line x1="565.74" y1="858.22" x2="570.34" y2="858.22" stroke="#2a2aff" stroke-width="0.8"/>
<line x1="565.74" y1="864.22" x2="570.34" y2="864.22" stroke="#2a2aff" stroke-width="0.8"/>
<line x1="577.96" y1="860.06" x2="577.96" y2="866.06" stroke="#2a2aff" stroke-width="0.8"/>
<line x1="575.66" y1="860.06" x2="580.26" y2="860.06" stroke="#2a2aff" stroke-width="0.8"/>
<line x1="575.66" y1="866.06" x2="580.26" y2="866.06" stroke="#2a2aff" stroke-width="0.8"/>
<line x1="587.88" y1="858.22" x2="587.88" y2="864.22" stroke="#2a2aff" stroke-width="0.8"/>
<line x1="585.58" y1="858.22" x2="590.18" y2="858.22" stroke="#2a2aff" stroke-width="0.8"/>
<line x1="585.58" y1="864.22" x2="590.18" y2="864.22" stroke="#2a2aff" stroke-width="0.8"/>
<line x1="597.80" y1="856.64" x2="597.80" y2="862.64" stroke="#2a2aff" stroke-width="0.8"/>
<line x1="595.50" y1="856.64" x2="600.10" y2="856.64" stroke="#2a2aff" stroke-width="0.8"/>
<line x1="595.50" y1="862.64" x2="600.10" y2="862.64" stroke="#2a2aff" stroke-width="0.8"/>
<line x1="607.72" y1="854.02" x2="607.72" y2="860.02" stroke="#2a2aff" stroke-width="0.8"/>
<line x1="605.42" y1="854.02" x2="610.02" y2="854.02" stroke="#2a2aff" stroke-width="0.8"/>
<line x1="605.42" y1="860.02" x2="610.02" y2="860.02" stroke="#2a2aff" stroke-width="0.8"/>
<line x1="617.64" y1="855.91" x2="617.64" y2="863.91" stroke="#2a2aff" stroke-width="0.8"/>
<line x1="615.34" y1="855.91" x2="619.94" y2="855.91" stroke="#2a2aff" stroke-width="0.8"/>
<line x1="615.34" y1="863.91" x2="619.94" y2="863.91" stroke="#2a2aff" stroke-width="0.8"/>
<polyline points="498.60,874.88 508.52,867.79 518.44,867.52 528.36,870.94 538.28,863.06 548.20,868.84 558.12,865.16 568.04,861.22 577.96,863.06 587.88,861.22 597.80,859.64 607.72,857.02 617.64,859.91" stroke="#0000ff" stroke-width="0.8" fill="none"/>
<circle cx="498.60" cy="874.88" r="1.75" fill="#0000ff"/>
<circle cx="508.52" cy="867.79" r="1.75" fill="#0000ff"/>
<circle cx="518.44" cy="867.52" r="1.75" fill="#0000ff"/>
<circle cx="528.36" cy="870.94" r="1.75" fill="#0000ff"/>
<circle cx="538.28" cy="863.06" r="1.75" fill="#0000ff"/>
<circle cx="548.20" cy="868.84" r="1.75" fill="#0000ff"/>
<circle cx="558.12" cy="865.16" r="1.75" fill="#0000ff"/>
<circle cx="568.04" cy="861.22" r="1.75" fill="#0000ff"/>
<circle cx="577.96" cy="863.06" r="1.75" fill="#0000ff"/>
<circle cx="587.88" cy="861.22" r="1.75" fill="#0000ff"/>
<circle cx="597.80" cy="859.64" r="1.75" fill="#0000ff"/>
<circle cx="607.72" cy="857.02" r="1.75" fill="#0000ff"/>
<circle cx="617.64" cy="859.91" r="1.75" fill="#0000ff"/>
<line x1="498.60" y1="857.12" x2="498.60" y2="861.12" stroke="#ff4848" stroke-width="0.8"/>
<line x1="496.30" y1="857.12" x2="500.90" y2="857.12" stroke="#ff4848" stroke-width="0.8"/>
<line x1="496.30" y1="861.12" x2="500.90" y2="861.12" stroke="#ff4848" stroke-width="0.8"/>
<line x1="508.52" y1="855.80" x2="508.52" y2="859.80" stroke="#ff4848" stroke-width="0.8"/>
<line x1="506.22" y1="855.80" x2="510.82" y2="855.80" stroke="#ff4848" stroke-width="0.8"/>
<line x1="506.22" y1="859.80" x2="510.82" y2="859.80" stroke="#ff4848" stroke-width="0.8"/>
<line x1="518.44" y1="851.89" x2="518.44" y2="856.89" stroke="#ff4848" stroke-width="0.8"/>
<line x1="516.14" y1="851.89" x2="520.74" y2="851.89" stroke="#ff4848" stroke-width="0.8"/>
<line x1="516.14" y1="856.89" x2="520.74" y2="856.89" stroke="#ff4848" stroke-width="0.8"/>
<line x1="528.36" y1="852.68" x2="528.36" y2="857.68" stroke="#ff4848" stroke-width="0.8"/>
<line x1="526.06" y1="852.68" x2="530.66" y2="852.68" stroke="#ff4848" stroke-width="0.8"/>
<line x1="526.06" y1="857.68" x2="530.66" y2="857.68" stroke="#ff4848" stroke-width="0.8"/>
<line x1="538.28" y1="845.08" x2="538.28" y2="851.08" stroke="#ff4848" stroke-width="0.8"/>
<line x1="535.98" y1="845.08" x2="540.58" y2="845.08" stroke="#ff4848" stroke-width="0.8"/>
<line x1="535.98" y1="851.08" x2="540.58" y2="851.08" stroke="#ff4848" stroke-width="0.8"/>
<line x1="548.20" y1="846.92" x2="548.20" y2="852.92" stroke="#ff4848" stroke-width="0.8"/>
<line x1="545.90" y1="846.92" x2="550.50" y2="846.92" stroke="#ff4848" stroke-width="0.8"/>
<line x1="545.90" y1="852.92" x2="550.50" y2="852.92" stroke="#ff4848" stroke-width="0.8"/>
<line x1="558.12" y1="846.92" x2="558.12" y2="852.92" stroke="#ff4848" stroke-width="0.8"/>
<line x1="555.82" y1="846.92" x2="560.42" y2="846.92" stroke="#ff4848" stroke-width="0.8"/>
<line x1="555.82" y1="852.92" x2="560.42" y2="852.92" stroke="#ff4848" stroke-width="0.8"/>
<line x1="568.04" y1="842.45" x2="568.04" y2="848.45" stroke="#ff4848" stroke-width="0.8"/>
<line x1="565.74" y1="842.45" x2="570.34" y2="842.45" stroke="#ff4848" stroke-width="0.8"/>
<line x1="565.74" y1="848.45" x2="570.34" y2="848.45" stroke="#ff4848" stroke-width="0.8"/>
<line x1="577.96" y1="845.61" x2="577.96" y2="851.61" stroke="#ff4848" stroke-width="0.8"/>
<line x1="575.66" y1="845.61" x2="580.26" y2="845.61" stroke="#ff4848" stroke-width="0.8"/>
<line x1="575.66" y1="851.61" x2="580.26" y2="851.61" stroke="#ff4848" stroke-width="0.8"/>
<line x1="587.88" y1="845.61" x2="587.88" y2="851.61" stroke="#ff4848" stroke-width="0.8"/>
<line x1="585.58" y1="845.61" x2="590.18" y2="845.61" stroke="#ff4848" stroke-width="0.8"/>
<line x1="585.58" y1="851.61" x2="590.18" y2="851.61" stroke="#ff4848" stroke-width="0.8"/>
<line x1="597.80" y1="843.77" x2="597.80" y2="849.77" stroke="#ff4848" stroke-width="0.8"/>
<line x1="595.50" y1="843.77" x2="600.10" y2="843.77" stroke="#ff4848" stroke-width="0.8"/>
<line x1="595.50" y1="849.77" x2="600.10" y2="849.77" stroke="#ff4848" stroke-width="0.8"/>
<line x1="607.72" y1="843.77" x2="607.72" y2="849.77" stroke="#ff4848" stroke-width="0.8"/>
<line x1="605.42" y1="843.77" x2="610.02" y2="843.77" stroke="#ff4848" stroke-width="0.8"/>
<line x1="605.42" y1="849.77" x2="610.02" y2="849.77" stroke="#ff4848" stroke-width="0.8"/>
<line x1="617.64" y1="842.45" x2="617.64" y2="848.45" stroke="#ff4848" stroke-width="0.8"/>
<line x1="615.34" y1="842.45" x2="619.94" y2="842.45" stroke="#ff4848" stroke-width="0.8"/>
<line x1="615.34" y1="848.45" x2="619.94" y2="848.45" stroke="#ff4848" stroke-width="0.8"/>
<polyline points="498.60,859.12 508.52,857.80 518.44,854.39 528.36,855.18 538.28,848.08 548.20,849.92 558.12,849.92 568.04,845.45 577.96,848.61 587.88,848.61 597.80,846.77 607.72,846.77 617.64,845.45" stroke="#ff0000" stroke-width="0.8" fill="none"/>
<circle cx="498.60" cy="859.12" r="1.75" fill="#ff0000"/>
<circle cx="508.52" cy="857.80" r="1.75" fill="#ff0000"/>
<circle cx="518.44" cy="854.39" r="1.75" fill="#ff0000"/>
<circle cx="528.36" cy="855.18" r="1.75" fill="#ff0000"/>
<circle cx="538.28" cy="848.08" r="1.75" fill="#ff0000"/>
<circle cx="548.20" cy="849.92" r="1.75" fill="#ff0000"/>
<circle cx="558.12" cy="849.92" r="1.75" fill="#ff0000"/>
<circle cx="568.04" cy="845.45" r="1.75" fill="#ff0000"/>
<circle cx="577.96" cy="848.61" r="1.75" fill="#ff0000"/>
<circle cx="587.88" cy="848.61" r="1.75" fill="#ff0000"/>
<circle cx="597.80" cy="846.77" r="1.75" fill="#ff0000"/>
<circle cx="607.72" cy="846.77" r="1.75" fill="#ff0000"/>
<circle cx="617.64" cy="845.45" r="1.75" fill="#ff0000"/>
<line x1="498.60" y1="853.96" x2="498.60" y2="857.96" stroke="#eba865" stroke-width="0.8"/>
<line x1="496.30" y1="853.96" x2="500.90" y2="853.96" stroke="#eba865" stroke-width="0.8"/>
<line x1="496.30" y1="857.96" x2="500.90" y2="857.96" stroke="#eba865" stroke-width="0.8"/>
<line x1="508.52" y1="848.45" x2="508.52" y2="852.45" stroke="#eba865" stroke-width="0.8"/>
<line x1="506.22" y1="848.45" x2="510.82" y2="848.45" stroke="#eba865" stroke-width="0.8"/>
<line x1="506.22" y1="852.45" x2="510.82" y2="852.45" stroke="#eba865" stroke-width="0.8"/>
<line x1="518.44" y1="845.32" x2="518.44" y2="850.32" stroke="#eba865" stroke-width="0.8"/>
<line x1="516.14" y1="845.32" x2="520.74" y2="845.32" stroke="#eba865" stroke-width="0.8"/>
<line x1="516.14" y1="850.32" x2="520.74" y2="850.32" stroke="#eba865" stroke-width="0.8"/>
<line x1="528.36" y1="846.11" x2="528.36" y2="851.11" stroke="#eba865" stroke-width="0.8"/>
<line x1="526.06" y1="846.11" x2="530.66" y2="846.11" stroke="#eba865" stroke-width="0.8"/>
<line x1="526.06" y1="851.11" x2="530.66" y2="851.11" stroke="#eba865" stroke-width="0.8"/>
<line x1="538.28" y1="837.20" x2="538.28" y2="843.20" stroke="#eba865" stroke-width="0.8"/>
<line x1="535.98" y1="837.20" x2="540.58" y2="837.20" stroke="#eba865" stroke-width="0.8"/>
<line x1="535.98" y1="843.20" x2="540.58" y2="843.20" stroke="#eba865" stroke-width="0.8"/>
<line x1="548.20" y1="840.35" x2="548.20" y2="846.35" stroke="#eba865" stroke-width="0.8"/>
<line x1="545.90" y1="840.35" x2="550.50" y2="840.35" stroke="#eba865" stroke-width="0.8"/>
<line x1="545.90" y1="846.35" x2="550.50" y2="846.35" stroke="#eba865" stroke-width="0.8"/>
<line x1="558.12" y1="839.83" x2="558.12" y2="845.83" stroke="#eba865" stroke-width="0.8"/>
<line x1="555.82" y1="839.83" x2="560.42" y2="839.83" stroke="#eba865" stroke-width="0.8"/>
<line x1="555.82" y1="845.83" x2="560.42" y2="845.83" stroke="#eba865" stroke-width="0.8"/>
<line x1="568.04" y1="837.20" x2="568.04" y2="843.20" stroke="#eba865" stroke-width="0.8"/>
<line x1="565.74" y1="837.20" x2="570.34" y2="837.20" stroke="#eba865" stroke-width="0.8"/>
<line x1="565.74" y1="843.20" x2="570.34" y2="843.20" stroke="#eba865" stroke-width="0.8"/>
<line x1="577.96" y1="840.35" x2="577.96" y2="846.35" stroke="#eba865" stroke-width="0.8"/>
<line x1="575.66" y1="840.35" x2="580.26" y2="840.35" stroke="#eba865" stroke-width="0.8"/>
<line x1="575.66" y1="846.35" x2="580.26" y2="846.35" stroke="#eba865" stroke-width="0.8"/>
<line x1="587.88" y1="840.35" x2="587.88" y2="846.35" stroke="#eba865" stroke-width="0.8"/>
<line x1="585.58" y1="840.35" x2="590.18" y2="840.35" stroke="#eba865" stroke-width="0.8"/>
<line x1="585.58" y1="846.35" x2="590.18" y2="846.35" stroke="#eba865" stroke-width="0.8"/>
<line x1="597.80" y1="839.04" x2="597.80" y2="845.04" stroke="#eba865" stroke-width="0.8"/>
<line x1="595.50" y1="839.04" x2="600.10" y2="839.04" stroke="#eba865" stroke-width="0.8"/>
<line x1="595.50" y1="845.04" x2="600.10" y2="845.04" stroke="#eba865" stroke-width="0.8"/>
<line x1="607.72" y1="837.20" x2="607.72" y2="843.20" stroke="#eba865" stroke-width="0.8"/>
<line x1="605.42" y1="837.20" x2="610.02" y2="837.20" stroke="#eba865" stroke-width="0.8"/>
<line x1="605.42" y1="843.20" x2="610.02" y2="843.20" stroke="#eba865" stroke-width="0.8"/>
<line x1="617.64" y1="836.20" x2="617.64" y2="844.20" stroke="#eba865" stroke-width="0.8"/>
<line x1="615.34" y1="836.20" x2="619.94" y2="836.20" stroke="#eba865" stroke-width="0.8"/>
<line x1="615.34" y1="844.20" x2="619.94" y2="844.20" stroke="#eba865" stroke-width="0.8"/>
<polyline points="498.60,855.96 508.52,850.45 518.44,847.82 528.36,848.61 538.28,840.20 548.20,843.35 558.12,842.83 568.04,840.20 577.96,843.35 587.88,843.35 597.80,842.04 607.72,840.20 617.64,840.20" stroke="#eba865" stroke-width="0.8" fill="none"/>
<circle cx="498.60" cy="855.96" r="1.75" fill="#eba865"/>
<circle cx="508.52" cy="850.45" r="1.75" fill="#eba865"/>
<circle cx="518.44" cy="847.82" r="1.75" fill="#eba865"/>
<circle cx="528.36" cy="848.61" r="1.75" fill="#eba865"/>
<circle cx="538.28" cy="840.20" r="1.75" fill="#eba865"/>
<circle cx="548.20" cy="843.35" r="1.75" fill="#eba865"/>
<circle cx="558.12" cy="842.83" r="1.75" fill="#eba865"/>
<circle cx="568.04" cy="840.20" r="1.75" fill="#eba865"/>
<circle cx="577.96" cy="843.35" r="1.75" fill="#eba865"/>
<circle cx="587.88" cy="843.35" r="1.75" fill="#eba865"/>
<circle cx="597.80" cy="842.04" r="1.75" fill="#eba865"/>
<circle cx="607.72" cy="840.20" r="1.75" fill="#eba865"/>
<circle cx="617.64" cy="840.20" r="1.75" fill="#eba865"/>
<line x1="498.60" y1="865.31" x2="498.60" y2="871.31" stroke="#222" stroke-width="0.8"/>
<line x1="496.30" y1="865.31" x2="500.90" y2="865.31" stroke="#222" stroke-width="0.8"/>
<line x1="496.30" y1="871.31" x2="500.90" y2="871.31" stroke="#222" stroke-width="0.8"/>
<line x1="508.52" y1="856.96" x2="508.52" y2="864.96" stroke="#222" stroke-width="0.8"/>
<line x1="506.22" y1="856.96" x2="510.82" y2="856.96" stroke="#222" stroke-width="0.8"/>
<line x1="506.22" y1="864.96" x2="510.82" y2="864.96" stroke="#222" stroke-width="0.8"/>
<line x1="518.44" y1="854.38" x2="518.44" y2="864.38" stroke="#222" stroke-width="0.8"/>
<line x1="516.14" y1="854.38" x2="520.74" y2="854.38" stroke="#222" stroke-width="0.8"/>
<line x1="516.14" y1="864.38" x2="520.74" y2="864.38" stroke="#222" stroke-width="0.8"/>
<line x1="528.36" y1="849.83" x2="528.36" y2="866.83" stroke="#222" stroke-width="0.8"/>
<line x1="526.06" y1="849.83" x2="530.66" y2="849.83" stroke="#222" stroke-width="0.8"/>
<line x1="526.06" y1="866.83" x2="530.66" y2="866.83" stroke="#222" stroke-width="0.8"/>
<line x1="538.28" y1="841.21" x2="538.28" y2="860.21" stroke="#222" stroke-width="0.8"/>
<line x1="535.98" y1="841.21" x2="540.58" y2="841.21" stroke="#222" stroke-width="0.8"/>
<line x1="535.98" y1="860.21" x2="540.58" y2="860.21" stroke="#222" stroke-width="0.8"/>
<line x1="548.20" y1="845.86" x2="548.20" y2="861.86" stroke="#222" stroke-width="0.8"/>
<line x1="545.90" y1="845.86" x2="550.50" y2="845.86" stroke="#222" stroke-width="0.8"/>
<line x1="545.90" y1="861.86" x2="550.50" y2="861.86" stroke="#222" stroke-width="0.8"/>
<line x1="558.12" y1="846.34" x2="558.12" y2="860.34" stroke="#222" stroke-width="0.8"/>
<line x1="555.82" y1="846.34" x2="560.42" y2="846.34" stroke="#222" stroke-width="0.8"/>
<line x1="555.82" y1="860.34" x2="560.42" y2="860.34" stroke="#222" stroke-width="0.8"/>
<line x1="568.04" y1="843.92" x2="568.04" y2="855.92" stroke="#222" stroke-width="0.8"/>
<line x1="565.74" y1="843.92" x2="570.34" y2="843.92" stroke="#222" stroke-width="0.8"/>
<line x1="565.74" y1="855.92" x2="570.34" y2="855.92" stroke="#222" stroke-width="0.8"/>
<line x1="577.96" y1="847.34" x2="577.96" y2="859.34" stroke="#222" stroke-width="0.8"/>
<line x1="575.66" y1="847.34" x2="580.26" y2="847.34" stroke="#222" stroke-width="0.8"/>
<line x1="575.66" y1="859.34" x2="580.26" y2="859.34" stroke="#222" stroke-width="0.8"/>
<line x1="587.88" y1="847.86" x2="587.88" y2="859.86" stroke="#222" stroke-width="0.8"/>
<line x1="585.58" y1="847.86" x2="590.18" y2="847.86" stroke="#222" stroke-width="0.8"/>
<line x1="585.58" y1="859.86" x2="590.18" y2="859.86" stroke="#222" stroke-width="0.8"/>
<line x1="597.80" y1="845.45" x2="597.80" y2="855.45" stroke="#222" stroke-width="0.8"/>
<line x1="595.50" y1="845.45" x2="600.10" y2="845.45" stroke="#222" stroke-width="0.8"/>
<line x1="595.50" y1="855.45" x2="600.10" y2="855.45" stroke="#222" stroke-width="0.8"/>
<line x1="607.72" y1="844.13" x2="607.72" y2="854.13" stroke="#222" stroke-width="0.8"/>
<line x1="605.42" y1="844.13" x2="610.02" y2="844.13" stroke="#222" stroke-width="0.8"/>
<line x1="605.42" y1="854.13" x2="610.02" y2="854.13" stroke="#222" stroke-width="0.8"/>
<line x1="617.64" y1="845.71" x2="617.64" y2="855.71" stroke="#222" stroke-width="0.8"/>
<line x1="615.34" y1="845.71" x2="619.94" y2="845.71" stroke="#222" stroke-width="0.8"/>
<line x1="615.34" y1="855.71" x2="619.94" y2="855.71" stroke="#222" stroke-width="0.8"/>
<polyline points="498.60,868.31 508.52,860.96 518.44,859.38 528.36,858.33 538.28,850.71 548.20,853.86 558.12,853.34 568.04,849.92 577.96,853.34 587.88,853.86 597.80,850.45 607.72,849.13 617.64,850.71" stroke="#000" stroke-width="0.8" fill="none"/>
<circle cx="498.60" cy="868.31" r="1.75" fill="#000"/>
<circle cx="508.52" cy="860.96" r="1.75" fill="#000"/>
<circle cx="518.44" cy="859.38" r="1.75" fill="#000"/>
<circle cx="528.36" cy="858.33" r="1.75" fill="#000"/>
<circle cx="538.28" cy="850.71" r="1.75" fill="#000"/>
<circle cx="548.20" cy="853.86" r="1.75" fill="#000"/>
<circle cx="558.12" cy="853.34" r="1.75" fill="#000"/>
<circle cx="568.04" cy="849.92" r="1.75" fill="#000"/>
<circle cx="577.96" cy="853.34" r="1.75" fill="#000"/>
<circle cx="587.88" cy="853.86" r="1.75" fill="#000"/>
<circle cx="597.80" cy="850.45" r="1.75" fill="#000"/>
<circle cx="607.72" cy="849.13" r="1.75" fill="#000"/>
<circle cx="617.64" cy="850.71" r="1.75" fill="#000"/>
<text x="558.50" y="920.30" font-size="8.2" text-anchor="middle">Days post IV CAR T Cell Injection</text>
<text transform="translate(477.50,855.00) rotate(-90)" font-size="8.2" text-anchor="middle" fill="#000">Body Weight (grams)</text>
</svg>
</body></html>
